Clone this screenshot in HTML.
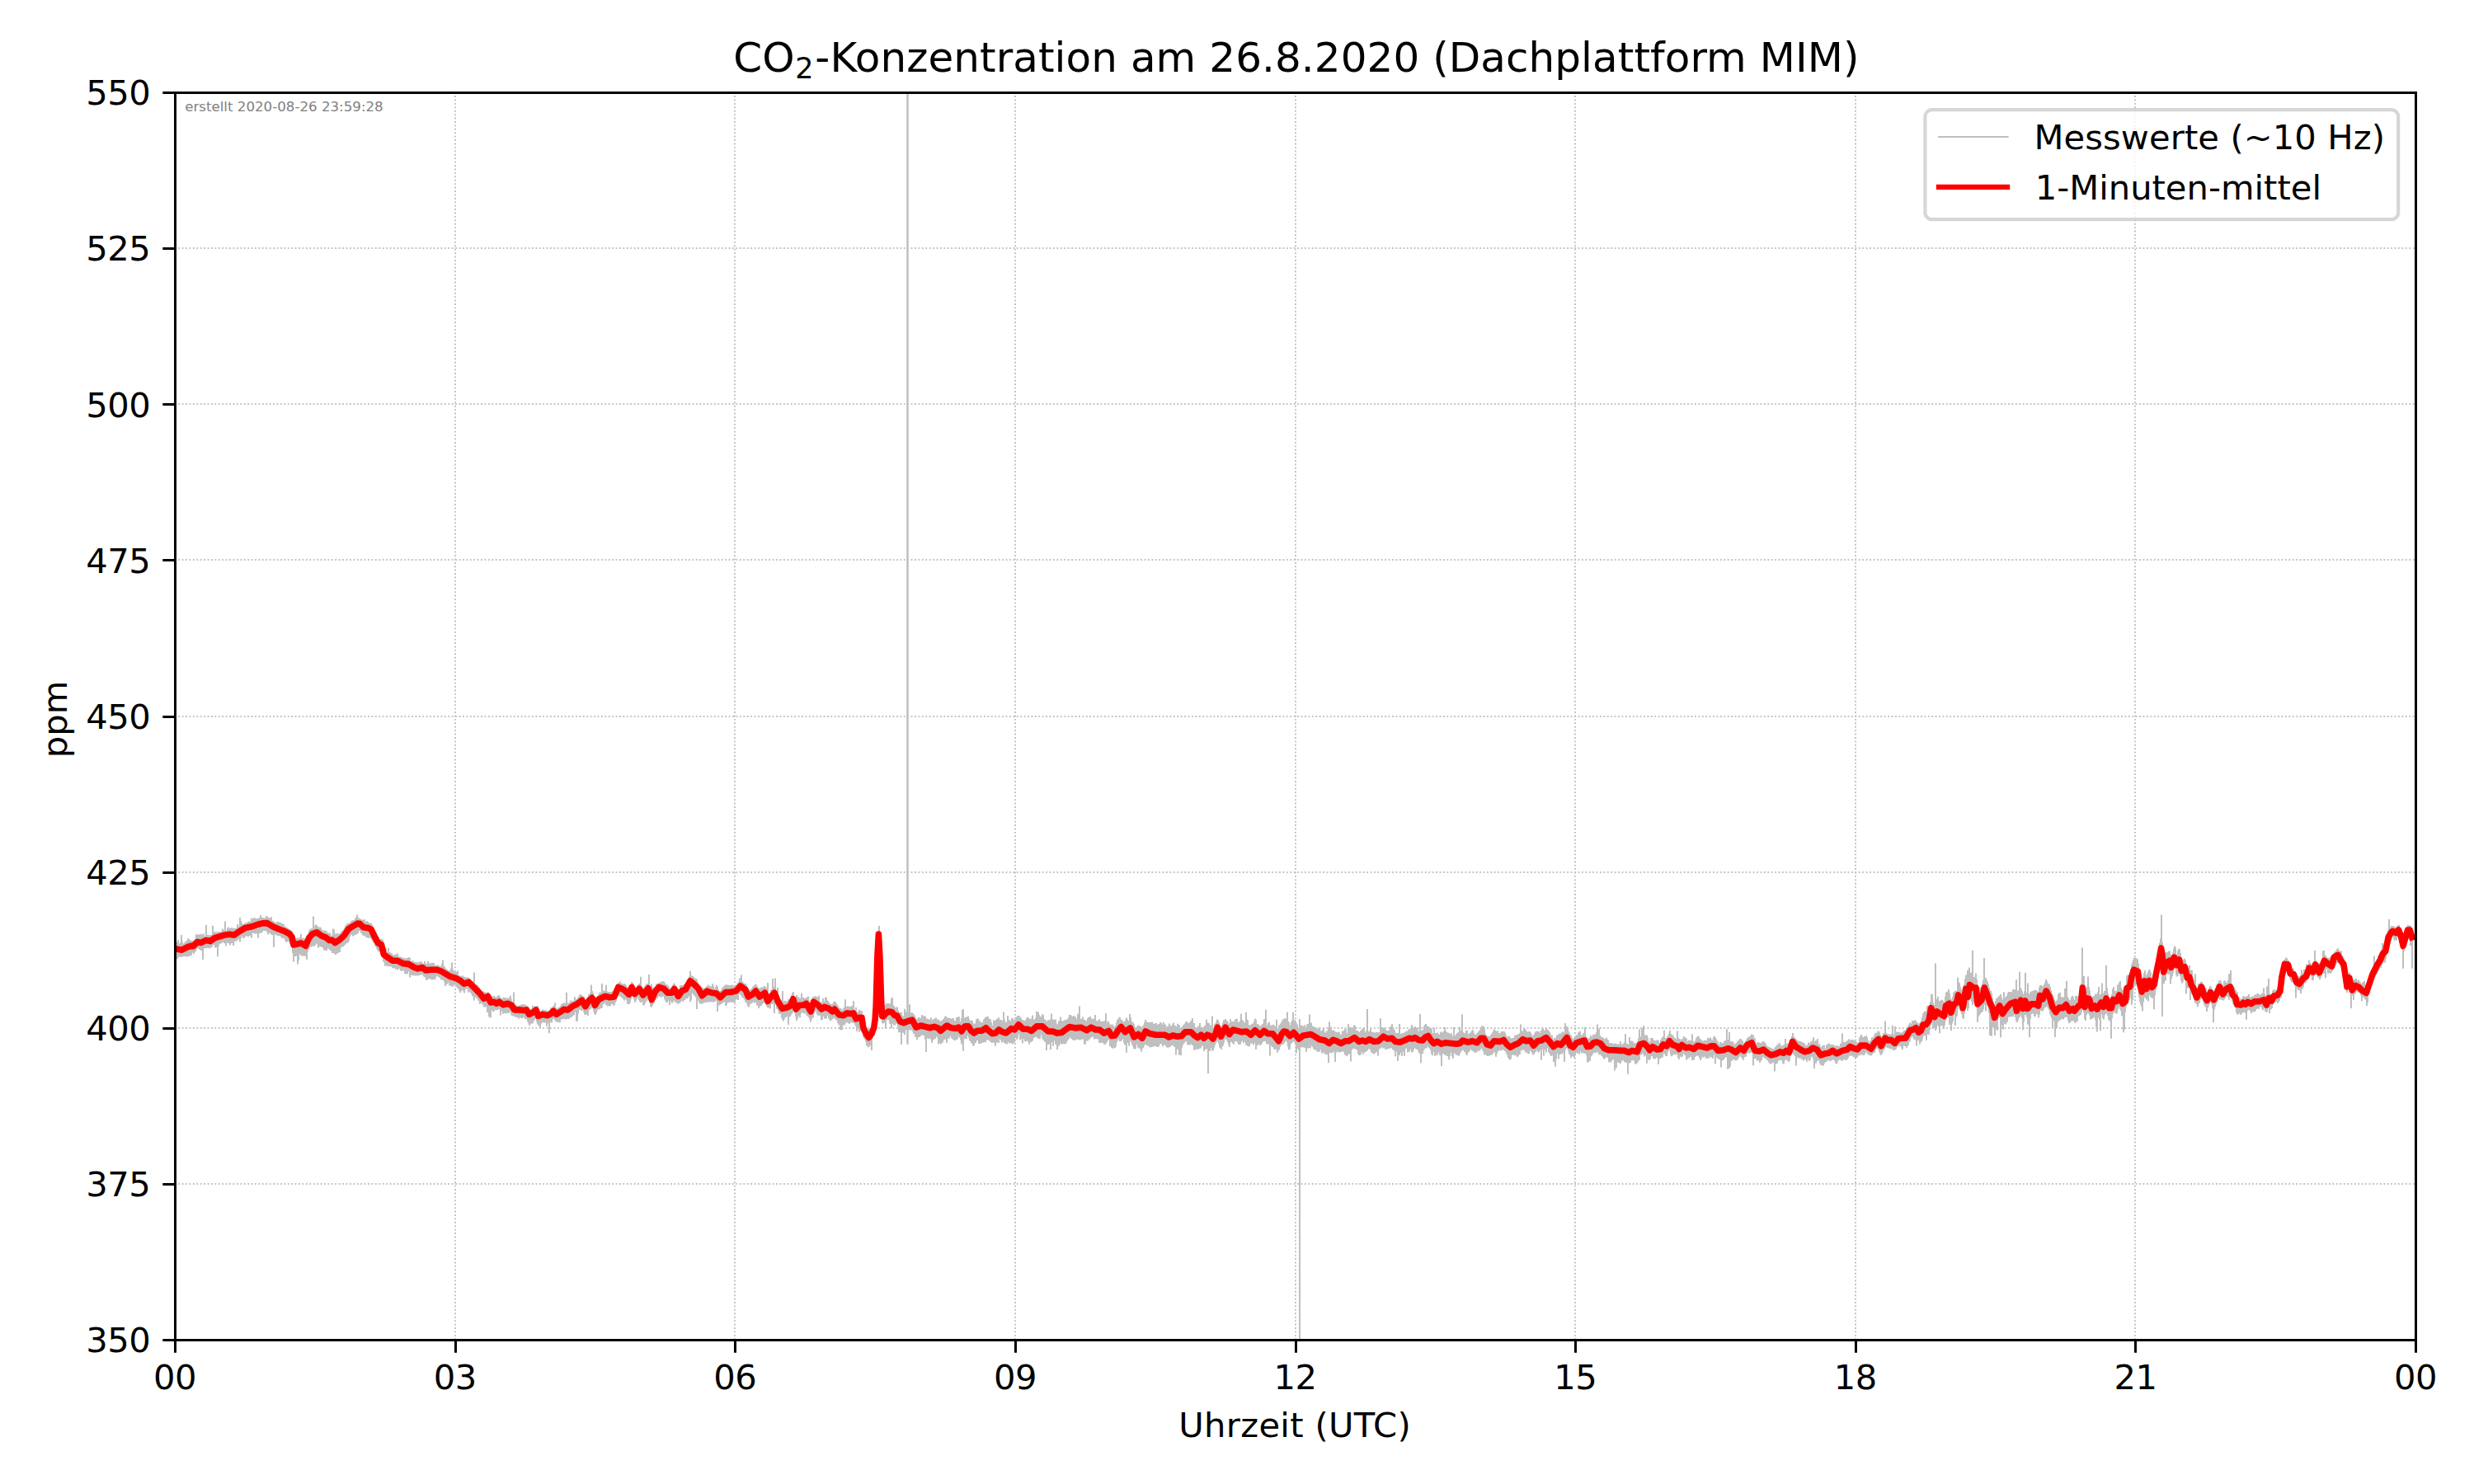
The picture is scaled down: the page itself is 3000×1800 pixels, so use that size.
<!DOCTYPE html>
<html lang="de"><head><meta charset="utf-8"><title>CO2-Konzentration am 26.8.2020</title>
<style>html,body{margin:0;padding:0;background:#fff}body{width:3000px;height:1800px;overflow:hidden}svg text{font-family:"DejaVu Sans","Liberation Sans",sans-serif}</style></head>
<body>
<svg width="3000" height="1800" viewBox="0 0 3000 1800" style="display:block">
<rect width="3000" height="1800" fill="#fff"/>
<defs><clipPath id="ax"><rect x="212.5" y="112.5" width="2717.0" height="1513.0"/></clipPath></defs>
<path d="M552,1625.20V112.5M891,1625.20V112.5M1231,1625.20V112.5M1571,1625.20V112.5M1910,1625.20V112.5M2250,1625.20V112.5M2589,1625.20V112.5M211.78,301H2929.5M211.78,490H2929.5M211.78,679H2929.5M211.78,869H2929.5M211.78,1058H2929.5M211.78,1247H2929.5M211.78,1436H2929.5" stroke="#c4c4c4" stroke-width="2" stroke-dasharray="1.9 2.52" fill="none"/>
<g clip-path="url(#ax)">
<path d="M213.0,1142.9V1163.3M214.0,1143.0V1163.2M215.0,1142.6V1163.2M216.0,1140.0V1161.1M217.0,1144.4V1160.8M218.0,1144.2V1160.6M219.0,1143.6V1160.7M220.0,1134.1V1161.1M221.0,1142.4V1160.2M222.0,1144.8V1160.1M223.0,1144.9V1159.6M224.0,1143.4V1159.9M225.0,1142.5V1159.4M226.0,1141.5V1160.5M227.0,1140.9V1160.1M228.0,1138.2V1159.4M229.0,1140.1V1159.9M230.0,1139.4V1158.9M231.0,1141.4V1159.2M232.0,1140.9V1158.6M233.0,1141.6V1155.5M234.0,1140.7V1155.1M235.0,1140.7V1157.0M236.0,1140.1V1154.9M237.0,1138.9V1153.8M238.0,1133.3V1151.8M239.0,1133.5V1150.2M240.0,1133.5V1149.8M241.0,1133.7V1150.6M242.0,1133.4V1151.5M243.0,1136.1V1151.9M244.0,1132.8V1153.0M245.0,1134.6V1152.4M246.0,1133.8V1163.9M247.0,1132.4V1150.7M248.0,1135.4V1150.3M249.0,1135.4V1150.1M250.0,1122.0V1149.9M251.0,1134.8V1150.1M252.0,1134.1V1149.2M253.0,1134.9V1150.0M254.0,1134.2V1150.2M255.0,1136.5V1150.0M256.0,1134.2V1148.9M257.0,1133.4V1148.6M258.0,1122.7V1146.2M259.0,1130.7V1146.0M260.0,1130.3V1145.9M261.0,1130.2V1149.6M262.0,1130.9V1148.9M263.0,1130.6V1148.6M264.0,1130.4V1160.2M265.0,1130.1V1147.6M266.0,1130.4V1144.5M267.0,1130.5V1144.8M268.0,1130.7V1143.9M269.0,1129.8V1143.6M270.0,1126.5V1142.5M271.0,1128.5V1142.3M272.0,1128.3V1144.2M273.0,1117.6V1142.3M274.0,1128.7V1147.4M275.0,1129.0V1143.2M276.0,1126.1V1142.4M277.0,1124.4V1144.3M278.0,1126.0V1143.6M279.0,1126.1V1146.6M280.0,1126.8V1144.3M281.0,1124.9V1143.7M282.0,1125.9V1144.1M283.0,1125.9V1146.9M284.0,1126.9V1142.3M285.0,1126.0V1141.6M286.0,1126.2V1141.7M287.0,1126.7V1141.1M288.0,1121.0V1139.9M289.0,1123.9V1139.0M290.0,1123.6V1138.4M291.0,1113.1V1142.5M292.0,1117.1V1138.1M293.0,1119.2V1135.2M294.0,1121.3V1135.5M295.0,1121.4V1138.1M296.0,1120.7V1137.8M297.0,1120.1V1135.8M298.0,1119.3V1135.4M299.0,1119.5V1135.2M300.0,1118.9V1135.2M301.0,1118.1V1136.0M302.0,1117.6V1135.2M303.0,1117.7V1134.5M304.0,1118.2V1134.8M305.0,1113.7V1137.5M306.0,1114.7V1131.3M307.0,1114.3V1131.5M308.0,1113.3V1132.1M309.0,1113.6V1132.5M310.0,1114.3V1131.7M311.0,1114.7V1132.5M312.0,1114.0V1131.4M313.0,1113.9V1137.7M314.0,1113.5V1132.2M315.0,1113.3V1132.3M316.0,1110.1V1131.6M317.0,1113.5V1131.4M318.0,1112.8V1130.0M319.0,1113.6V1129.0M320.0,1113.1V1128.6M321.0,1113.9V1129.1M322.0,1113.7V1129.0M323.0,1111.0V1129.1M324.0,1111.4V1130.4M325.0,1112.9V1133.5M326.0,1113.0V1129.5M327.0,1113.6V1131.5M328.0,1114.5V1132.3M329.0,1112.2V1133.0M330.0,1117.4V1134.0M331.0,1116.9V1131.9M332.0,1117.7V1149.0M333.0,1118.7V1133.3M334.0,1120.0V1133.6M335.0,1120.2V1134.2M336.0,1117.9V1134.4M337.0,1118.3V1135.0M338.0,1118.8V1135.2M339.0,1118.6V1135.0M340.0,1119.2V1135.5M341.0,1119.7V1136.3M342.0,1120.6V1137.9M343.0,1120.8V1137.9M344.0,1120.8V1137.8M345.0,1124.0V1138.2M346.0,1123.7V1140.5M347.0,1125.1V1142.7M348.0,1125.3V1142.2M349.0,1126.3V1141.3M350.0,1126.4V1141.6M351.0,1127.5V1143.1M352.0,1127.4V1145.0M353.0,1128.5V1147.2M354.0,1130.1V1148.3M355.0,1135.7V1155.9M356.0,1140.6V1166.6M357.0,1140.3V1159.6M358.0,1140.3V1160.1M359.0,1137.8V1159.4M360.0,1137.9V1155.9M361.0,1137.9V1169.4M362.0,1137.9V1165.1M363.0,1137.3V1155.8M364.0,1136.9V1157.6M365.0,1132.7V1158.2M366.0,1137.9V1159.4M367.0,1139.0V1159.8M368.0,1137.7V1158.3M369.0,1138.6V1159.0M370.0,1139.2V1159.4M371.0,1138.9V1160.0M372.0,1136.8V1164.0M373.0,1135.6V1154.4M374.0,1132.7V1151.7M375.0,1128.7V1149.3M376.0,1127.3V1146.6M377.0,1126.4V1148.6M378.0,1126.3V1147.7M379.0,1126.3V1147.0M380.0,1111.6V1147.8M381.0,1123.3V1147.6M382.0,1122.9V1146.5M383.0,1121.5V1144.5M384.0,1122.5V1141.9M385.0,1123.3V1145.4M386.0,1124.8V1149.4M387.0,1126.2V1147.8M388.0,1124.6V1146.0M389.0,1125.6V1148.0M390.0,1127.7V1148.5M391.0,1128.6V1149.1M392.0,1128.7V1149.8M393.0,1128.5V1152.4M394.0,1128.6V1152.2M395.0,1129.0V1152.5M396.0,1129.8V1153.3M397.0,1131.7V1149.7M398.0,1132.9V1150.6M399.0,1131.7V1150.7M400.0,1131.4V1152.0M401.0,1134.0V1153.0M402.0,1134.8V1153.4M403.0,1135.5V1156.0M404.0,1126.6V1156.0M405.0,1127.5V1155.9M406.0,1133.0V1156.7M407.0,1132.6V1158.0M408.0,1133.3V1157.1M409.0,1132.3V1155.9M410.0,1132.4V1156.1M411.0,1133.1V1154.6M412.0,1132.2V1155.0M413.0,1131.8V1149.7M414.0,1129.9V1148.8M415.0,1129.3V1148.5M416.0,1128.5V1148.1M417.0,1127.3V1147.2M418.0,1125.5V1144.7M419.0,1122.9V1145.5M420.0,1121.4V1144.0M421.0,1120.4V1143.0M422.0,1120.0V1143.4M423.0,1119.7V1141.3M424.0,1119.8V1136.7M425.0,1118.8V1134.7M426.0,1117.6V1133.3M427.0,1116.7V1133.8M428.0,1116.3V1135.4M429.0,1116.3V1134.8M430.0,1116.0V1133.2M431.0,1113.6V1133.7M432.0,1113.1V1133.2M433.0,1109.5V1132.7M434.0,1112.4V1132.1M435.0,1113.8V1128.3M436.0,1114.2V1129.2M437.0,1114.9V1129.3M438.0,1116.5V1131.5M439.0,1115.3V1132.4M440.0,1116.2V1134.6M441.0,1115.9V1134.7M442.0,1115.1V1135.1M443.0,1118.4V1134.7M444.0,1118.1V1136.9M445.0,1117.2V1136.8M446.0,1118.2V1137.6M447.0,1118.9V1138.1M448.0,1120.1V1137.7M449.0,1119.8V1137.7M450.0,1119.7V1137.2M451.0,1121.5V1139.8M452.0,1124.4V1141.5M453.0,1127.0V1143.5M454.0,1128.6V1144.6M455.0,1129.9V1147.2M456.0,1130.4V1148.4M457.0,1133.4V1150.7M458.0,1134.8V1152.5M459.0,1136.5V1154.3M460.0,1139.3V1154.3M461.0,1139.3V1153.8M462.0,1139.0V1154.4M463.0,1139.5V1156.7M464.0,1139.4V1162.2M465.0,1148.4V1166.7M466.0,1150.2V1166.6M467.0,1151.0V1171.8M468.0,1149.8V1168.4M469.0,1154.4V1171.2M470.0,1155.1V1171.7M471.0,1150.1V1172.0M472.0,1155.5V1172.2M473.0,1155.3V1171.6M474.0,1156.2V1172.5M475.0,1156.5V1172.4M476.0,1158.0V1173.7M477.0,1158.4V1174.5M478.0,1158.4V1174.2M479.0,1157.9V1173.1M480.0,1157.4V1175.5M481.0,1157.9V1175.6M482.0,1156.5V1176.5M483.0,1160.0V1173.8M484.0,1160.7V1174.5M485.0,1160.6V1175.8M486.0,1161.8V1177.2M487.0,1160.9V1178.0M488.0,1162.4V1177.6M489.0,1161.7V1177.3M490.0,1161.9V1177.2M491.0,1162.2V1181.1M492.0,1162.5V1181.2M493.0,1162.9V1181.3M494.0,1161.8V1181.6M495.0,1161.7V1177.8M496.0,1161.0V1178.6M497.0,1162.1V1185.6M498.0,1165.4V1182.8M499.0,1165.7V1182.8M500.0,1165.7V1183.1M501.0,1165.3V1183.0M502.0,1167.2V1183.3M503.0,1167.1V1183.5M504.0,1167.2V1183.2M505.0,1166.7V1182.6M506.0,1168.0V1183.2M507.0,1168.0V1183.6M508.0,1166.8V1182.8M509.0,1166.8V1182.1M510.0,1166.6V1182.5M511.0,1166.2V1182.3M512.0,1168.1V1181.4M513.0,1168.7V1182.3M514.0,1168.8V1184.2M515.0,1165.9V1185.1M516.0,1168.8V1185.5M517.0,1168.9V1188.9M518.0,1169.1V1188.5M519.0,1165.9V1187.6M520.0,1168.3V1186.6M521.0,1168.3V1186.8M522.0,1168.3V1187.7M523.0,1168.5V1187.3M524.0,1168.2V1188.5M525.0,1167.8V1187.6M526.0,1167.9V1188.2M527.0,1171.0V1188.2M528.0,1171.3V1186.8M529.0,1170.8V1184.2M530.0,1170.5V1183.7M531.0,1170.8V1184.1M532.0,1171.4V1185.1M533.0,1172.0V1185.9M534.0,1172.0V1185.9M535.0,1172.3V1188.1M536.0,1168.9V1188.8M537.0,1164.5V1188.8M538.0,1171.9V1187.8M539.0,1172.5V1190.9M540.0,1174.4V1196.0M541.0,1175.8V1192.3M542.0,1176.0V1193.7M543.0,1177.6V1191.7M544.0,1177.9V1191.7M545.0,1177.2V1195.2M546.0,1177.5V1195.2M547.0,1174.6V1196.0M548.0,1167.2V1196.4M549.0,1175.3V1196.7M550.0,1177.7V1194.8M551.0,1178.2V1194.3M552.0,1179.1V1194.1M553.0,1179.0V1194.6M554.0,1181.0V1197.3M555.0,1177.2V1198.4M556.0,1182.8V1199.2M557.0,1183.4V1201.3M558.0,1184.6V1204.0M559.0,1185.0V1202.2M560.0,1183.4V1200.5M561.0,1183.4V1200.9M562.0,1184.5V1202.2M563.0,1185.2V1204.6M564.0,1184.9V1200.8M565.0,1186.3V1199.8M566.0,1185.7V1199.3M567.0,1185.6V1199.2M568.0,1185.7V1203.7M569.0,1186.8V1201.1M570.0,1187.5V1202.6M571.0,1188.8V1204.2M572.0,1190.1V1205.5M573.0,1191.9V1208.3M574.0,1190.1V1208.6M575.0,1179.4V1213.4M576.0,1193.3V1209.2M577.0,1194.1V1209.4M578.0,1195.3V1210.4M579.0,1194.4V1211.3M580.0,1196.4V1213.6M581.0,1197.4V1214.1M582.0,1199.2V1218.1M583.0,1201.3V1215.5M584.0,1202.4V1216.6M585.0,1203.3V1217.8M586.0,1202.5V1219.3M587.0,1203.5V1221.5M588.0,1203.1V1221.6M589.0,1204.4V1221.2M590.0,1204.6V1219.7M591.0,1203.7V1227.9M592.0,1203.2V1218.9M593.0,1205.2V1233.4M594.0,1207.9V1224.1M595.0,1209.9V1234.5M596.0,1209.2V1225.2M597.0,1208.7V1224.9M598.0,1208.2V1227.1M599.0,1208.0V1226.3M600.0,1209.0V1223.9M601.0,1209.7V1224.8M602.0,1209.3V1225.2M603.0,1208.9V1224.7M604.0,1208.0V1224.5M605.0,1207.0V1224.1M606.0,1209.0V1224.4M607.0,1210.5V1231.4M608.0,1211.8V1226.1M609.0,1210.9V1226.4M610.0,1210.4V1229.8M611.0,1209.7V1228.8M612.0,1209.9V1229.0M613.0,1212.2V1228.6M614.0,1210.5V1229.3M615.0,1210.4V1228.5M616.0,1210.7V1228.4M617.0,1211.6V1229.1M618.0,1210.0V1226.5M619.0,1207.7V1226.9M620.0,1212.3V1230.6M621.0,1214.8V1232.4M622.0,1216.7V1230.5M623.0,1203.5V1231.8M624.0,1218.7V1233.2M625.0,1218.9V1233.1M626.0,1219.8V1233.8M627.0,1220.1V1234.1M628.0,1220.3V1234.0M629.0,1220.7V1235.8M630.0,1219.5V1233.9M631.0,1218.8V1233.3M632.0,1219.2V1234.8M633.0,1218.3V1235.2M634.0,1219.1V1233.9M635.0,1218.3V1233.3M636.0,1218.9V1234.1M637.0,1218.6V1235.9M638.0,1219.8V1236.0M639.0,1219.9V1235.9M640.0,1220.7V1239.3M641.0,1221.8V1241.2M642.0,1223.6V1244.0M643.0,1224.4V1242.3M644.0,1223.9V1241.0M645.0,1223.6V1241.4M646.0,1219.4V1241.3M647.0,1222.6V1238.6M648.0,1221.3V1236.5M649.0,1220.4V1236.0M650.0,1220.5V1236.1M651.0,1221.4V1239.8M652.0,1220.0V1242.4M653.0,1226.2V1243.8M654.0,1226.3V1241.1M655.0,1226.8V1247.0M656.0,1226.8V1241.8M657.0,1225.7V1240.2M658.0,1224.5V1238.9M659.0,1225.1V1240.3M660.0,1225.0V1239.8M661.0,1225.3V1240.6M662.0,1225.3V1238.9M663.0,1225.8V1244.8M664.0,1226.3V1240.3M665.0,1226.6V1241.6M666.0,1226.3V1253.3M667.0,1224.9V1240.2M668.0,1222.2V1238.6M669.0,1223.3V1240.4M670.0,1222.0V1236.2M671.0,1220.3V1235.1M672.0,1219.8V1236.0M673.0,1216.2V1237.5M674.0,1224.6V1239.1M675.0,1224.6V1238.8M676.0,1222.6V1239.7M677.0,1222.5V1239.8M678.0,1221.7V1240.2M679.0,1221.5V1240.1M680.0,1220.0V1235.3M681.0,1217.9V1236.5M682.0,1217.4V1234.1M683.0,1216.6V1236.1M684.0,1216.5V1235.7M685.0,1216.4V1235.9M686.0,1216.9V1236.6M687.0,1203.7V1236.1M688.0,1217.0V1233.0M689.0,1216.5V1236.1M690.0,1216.6V1235.5M691.0,1216.3V1234.4M692.0,1213.4V1233.9M693.0,1215.6V1233.4M694.0,1214.6V1232.5M695.0,1213.8V1231.7M696.0,1213.8V1231.2M697.0,1209.1V1227.4M698.0,1212.6V1226.8M699.0,1212.1V1239.0M700.0,1211.9V1238.4M701.0,1210.3V1229.7M702.0,1208.7V1224.7M703.0,1207.1V1223.9M704.0,1206.1V1224.5M705.0,1207.4V1225.9M706.0,1207.4V1223.1M707.0,1208.8V1225.3M708.0,1208.8V1227.6M709.0,1211.8V1230.5M710.0,1214.2V1231.1M711.0,1212.9V1229.9M712.0,1210.7V1227.1M713.0,1209.3V1231.9M714.0,1206.3V1225.0M715.0,1205.8V1224.8M716.0,1204.6V1223.7M717.0,1194.6V1222.4M718.0,1201.9V1221.0M719.0,1204.3V1223.4M720.0,1208.0V1226.6M721.0,1212.4V1229.7M722.0,1213.2V1230.9M723.0,1210.6V1228.4M724.0,1209.0V1225.5M725.0,1207.9V1224.4M726.0,1206.4V1222.9M727.0,1204.3V1224.3M728.0,1203.7V1222.1M729.0,1203.7V1223.1M730.0,1192.9V1222.0M731.0,1202.7V1218.3M732.0,1201.6V1217.5M733.0,1201.8V1216.5M734.0,1201.9V1216.3M735.0,1194.7V1219.0M736.0,1202.2V1219.6M737.0,1203.1V1220.6M738.0,1204.0V1220.1M739.0,1203.1V1220.3M740.0,1203.6V1220.4M741.0,1203.2V1218.0M742.0,1203.0V1218.0M743.0,1202.3V1217.4M744.0,1202.1V1219.6M745.0,1201.1V1219.3M746.0,1199.6V1216.0M747.0,1197.0V1214.2M748.0,1194.7V1209.9M749.0,1193.3V1207.8M750.0,1191.9V1206.8M751.0,1192.7V1208.5M752.0,1190.5V1208.4M753.0,1192.6V1208.6M754.0,1193.6V1210.6M755.0,1193.7V1210.0M756.0,1193.2V1211.8M757.0,1193.3V1213.4M758.0,1193.6V1210.2M759.0,1195.2V1211.9M760.0,1197.2V1213.3M761.0,1197.5V1218.1M762.0,1200.3V1218.1M763.0,1199.8V1218.1M764.0,1197.0V1215.6M765.0,1194.0V1212.3M766.0,1190.9V1208.8M767.0,1192.1V1206.8M768.0,1194.5V1209.0M769.0,1197.7V1212.6M770.0,1199.9V1215.8M771.0,1199.4V1213.9M772.0,1197.0V1212.1M773.0,1195.6V1210.4M774.0,1194.4V1209.3M775.0,1192.9V1213.1M776.0,1194.3V1214.7M777.0,1184.8V1216.0M778.0,1195.9V1212.7M779.0,1198.2V1215.0M780.0,1199.4V1219.2M781.0,1197.6V1219.3M782.0,1196.5V1217.2M783.0,1195.1V1213.2M784.0,1193.3V1214.5M785.0,1194.2V1212.5M786.0,1193.1V1210.2M787.0,1182.0V1212.0M788.0,1200.0V1215.7M789.0,1203.9V1221.2M790.0,1193.5V1221.6M791.0,1204.3V1220.1M792.0,1197.6V1217.8M793.0,1199.9V1216.8M794.0,1197.2V1213.3M795.0,1195.7V1212.9M796.0,1193.2V1211.3M797.0,1193.3V1211.0M798.0,1193.2V1208.4M799.0,1192.5V1207.8M800.0,1192.2V1208.4M801.0,1190.9V1209.1M802.0,1190.9V1209.4M803.0,1190.5V1208.6M804.0,1190.2V1208.0M805.0,1190.7V1208.6M806.0,1192.2V1212.1M807.0,1193.8V1213.7M808.0,1194.6V1215.4M809.0,1194.5V1216.3M810.0,1195.5V1213.6M811.0,1197.2V1213.8M812.0,1198.7V1218.9M813.0,1199.0V1214.7M814.0,1198.8V1214.0M815.0,1196.5V1216.8M816.0,1194.8V1215.1M817.0,1192.6V1212.8M818.0,1193.7V1213.8M819.0,1195.4V1215.8M820.0,1197.3V1213.9M821.0,1200.1V1216.4M822.0,1199.2V1217.6M823.0,1201.5V1217.4M824.0,1199.6V1216.4M825.0,1194.9V1215.5M826.0,1196.1V1214.0M827.0,1194.9V1212.4M828.0,1195.6V1214.8M829.0,1194.7V1213.2M830.0,1193.5V1213.1M831.0,1193.0V1212.2M832.0,1192.3V1210.9M833.0,1191.5V1210.9M834.0,1189.1V1210.4M835.0,1187.0V1208.2M836.0,1184.5V1206.5M837.0,1177.9V1214.9M838.0,1183.0V1212.8M839.0,1184.1V1203.4M840.0,1183.9V1204.8M841.0,1184.9V1206.0M842.0,1186.5V1207.5M843.0,1186.8V1208.2M844.0,1187.1V1209.7M845.0,1188.0V1224.0M846.0,1191.8V1207.8M847.0,1193.2V1213.4M848.0,1195.7V1215.8M849.0,1197.3V1217.5M850.0,1196.8V1216.1M851.0,1198.2V1217.4M852.0,1197.9V1217.1M853.0,1199.3V1216.6M854.0,1198.9V1216.3M855.0,1198.0V1214.3M856.0,1197.9V1216.2M857.0,1196.2V1215.1M858.0,1196.7V1215.2M859.0,1194.5V1215.7M860.0,1196.3V1214.4M861.0,1196.0V1215.0M862.0,1196.5V1215.2M863.0,1197.1V1214.8M864.0,1193.2V1215.5M865.0,1195.8V1215.3M866.0,1199.6V1215.6M867.0,1199.3V1214.5M868.0,1196.9V1213.8M869.0,1194.9V1213.5M870.0,1196.7V1227.1M871.0,1200.6V1218.7M872.0,1201.9V1219.4M873.0,1202.3V1218.5M874.0,1201.7V1218.2M875.0,1200.8V1216.9M876.0,1198.5V1216.9M877.0,1197.1V1215.7M878.0,1196.6V1215.2M879.0,1195.2V1213.6M880.0,1194.6V1220.2M881.0,1194.3V1218.7M882.0,1195.5V1216.1M883.0,1194.7V1212.7M884.0,1196.0V1216.2M885.0,1195.3V1215.3M886.0,1195.7V1215.6M887.0,1194.7V1214.4M888.0,1194.6V1215.8M889.0,1196.0V1215.7M890.0,1196.3V1216.1M891.0,1195.9V1216.6M892.0,1195.2V1211.8M893.0,1194.7V1212.3M894.0,1193.2V1209.0M895.0,1191.7V1213.1M896.0,1190.6V1206.0M897.0,1186.3V1205.7M898.0,1186.5V1205.6M899.0,1182.4V1208.0M900.0,1190.4V1209.4M901.0,1191.4V1210.4M902.0,1192.8V1211.1M903.0,1193.7V1212.5M904.0,1192.9V1215.4M905.0,1194.4V1215.4M906.0,1196.8V1217.6M907.0,1201.1V1220.5M908.0,1201.6V1221.4M909.0,1200.8V1218.4M910.0,1201.4V1217.5M911.0,1199.6V1217.1M912.0,1198.8V1216.6M913.0,1197.1V1215.1M914.0,1196.1V1215.4M915.0,1195.3V1216.6M916.0,1194.1V1216.0M917.0,1193.9V1215.3M918.0,1196.2V1219.6M919.0,1198.0V1217.8M920.0,1198.6V1223.1M921.0,1199.2V1221.0M922.0,1198.8V1220.1M923.0,1197.4V1219.9M924.0,1199.0V1218.0M925.0,1197.9V1217.2M926.0,1196.7V1216.2M927.0,1196.0V1214.6M928.0,1197.1V1215.6M929.0,1198.5V1217.8M930.0,1202.5V1220.6M931.0,1191.9V1222.0M932.0,1204.2V1222.5M933.0,1204.6V1220.7M934.0,1204.3V1223.6M935.0,1200.5V1217.9M936.0,1202.0V1217.2M937.0,1186.9V1217.8M938.0,1198.8V1217.5M939.0,1197.3V1229.0M940.0,1186.6V1215.3M941.0,1202.9V1218.4M942.0,1202.1V1223.4M943.0,1198.0V1224.1M944.0,1206.9V1226.3M945.0,1210.4V1229.9M946.0,1212.1V1229.2M947.0,1213.0V1229.4M948.0,1213.5V1234.8M949.0,1202.0V1236.6M950.0,1214.6V1238.4M951.0,1214.5V1236.0M952.0,1213.7V1234.1M953.0,1215.3V1233.7M954.0,1215.0V1232.9M955.0,1214.3V1232.3M956.0,1212.2V1242.9M957.0,1211.8V1233.1M958.0,1212.0V1233.2M959.0,1210.8V1231.3M960.0,1207.3V1229.5M961.0,1204.4V1227.8M962.0,1203.0V1224.3M963.0,1208.2V1225.3M964.0,1211.5V1228.7M965.0,1215.7V1233.0M966.0,1206.7V1237.9M967.0,1216.1V1235.4M968.0,1208.9V1231.9M969.0,1211.3V1229.5M970.0,1210.8V1234.2M971.0,1212.2V1229.4M972.0,1204.7V1227.9M973.0,1210.0V1228.2M974.0,1209.8V1228.1M975.0,1211.7V1229.5M976.0,1210.9V1228.6M977.0,1210.9V1228.7M978.0,1209.8V1230.7M979.0,1212.0V1232.4M980.0,1208.4V1232.6M981.0,1215.1V1233.9M982.0,1216.8V1235.7M983.0,1216.3V1239.8M984.0,1215.1V1236.5M985.0,1212.1V1234.6M986.0,1209.2V1234.4M987.0,1209.0V1229.5M988.0,1208.4V1226.4M989.0,1208.2V1226.2M990.0,1209.2V1226.7M991.0,1209.3V1230.5M992.0,1210.4V1231.8M993.0,1207.8V1230.6M994.0,1214.9V1231.5M995.0,1215.5V1232.0M996.0,1215.7V1237.3M997.0,1215.4V1237.1M998.0,1210.8V1232.7M999.0,1214.4V1231.8M1000.0,1214.6V1235.7M1001.0,1210.1V1235.6M1002.0,1209.7V1235.6M1003.0,1213.5V1231.6M1004.0,1213.9V1231.8M1005.0,1216.0V1235.0M1006.0,1217.1V1237.0M1007.0,1218.0V1238.3M1008.0,1219.5V1237.5M1009.0,1218.0V1236.2M1010.0,1217.5V1235.4M1011.0,1216.0V1234.8M1012.0,1214.6V1234.1M1013.0,1215.6V1236.4M1014.0,1217.0V1236.1M1015.0,1218.8V1237.8M1016.0,1220.2V1240.8M1017.0,1222.0V1242.7M1018.0,1222.8V1243.2M1019.0,1222.7V1249.3M1020.0,1223.5V1242.8M1021.0,1225.3V1249.2M1022.0,1225.6V1241.6M1023.0,1222.8V1243.6M1024.0,1222.0V1243.6M1025.0,1212.2V1241.6M1026.0,1221.0V1239.8M1027.0,1220.7V1238.6M1028.0,1220.5V1240.5M1029.0,1220.8V1241.0M1030.0,1220.8V1241.9M1031.0,1221.0V1239.6M1032.0,1221.4V1240.2M1033.0,1220.0V1240.5M1034.0,1222.1V1239.2M1035.0,1214.2V1241.1M1036.0,1225.1V1240.9M1037.0,1227.1V1242.8M1038.0,1221.9V1245.0M1039.0,1228.7V1251.1M1040.0,1227.6V1247.7M1041.0,1227.1V1244.5M1042.0,1224.7V1251.8M1043.0,1227.5V1244.2M1044.0,1226.1V1245.3M1045.0,1226.3V1245.2M1046.0,1231.7V1250.6M1047.0,1238.4V1257.7M1048.0,1241.2V1259.7M1049.0,1242.4V1260.8M1050.0,1244.7V1263.4M1051.0,1246.9V1268.1M1052.0,1248.4V1268.8M1053.0,1248.2V1270.3M1054.0,1247.4V1269.2M1055.0,1248.3V1267.9M1056.0,1247.3V1266.1M1057.0,1246.2V1274.0M1058.0,1243.9V1259.5M1059.0,1240.5V1256.6M1060.0,1236.8V1256.1M1061.0,1228.2V1248.6M1062.0,1213.9V1232.6M1063.0,1180.9V1200.3M1064.0,1148.1V1170.3M1065.0,1131.1V1160.9M1066.0,1123.0V1157.7M1067.0,1153.5V1176.3M1068.0,1186.2V1206.9M1069.0,1205.8V1229.4M1070.0,1223.4V1240.9M1071.0,1223.1V1241.4M1072.0,1222.2V1240.6M1073.0,1221.7V1240.0M1074.0,1219.0V1247.3M1075.0,1217.2V1237.6M1076.0,1218.2V1236.8M1077.0,1217.0V1236.3M1078.0,1217.5V1237.2M1079.0,1217.6V1241.6M1080.0,1217.1V1242.3M1081.0,1211.3V1246.9M1082.0,1209.9V1241.6M1083.0,1219.2V1241.8M1084.0,1220.3V1243.0M1085.0,1222.2V1243.8M1086.0,1222.2V1241.3M1087.0,1221.8V1241.1M1088.0,1221.5V1241.9M1089.0,1225.6V1245.3M1090.0,1228.6V1252.3M1091.0,1227.9V1251.9M1092.0,1227.8V1251.1M1093.0,1228.1V1267.0M1094.0,1231.8V1252.0M1095.0,1232.4V1252.8M1096.0,1232.6V1251.2M1097.0,1223.7V1255.1M1098.0,1227.3V1249.6M1099.0,1228.5V1248.9M1100.0,1228.9V1248.7M1101.0,1228.8V1248.9M1102.0,1227.7V1249.0M1103.0,1218.3V1249.5M1104.0,1229.5V1249.2M1105.0,1228.3V1249.7M1106.0,1228.4V1248.9M1107.0,1228.9V1251.3M1108.0,1230.7V1253.6M1109.0,1231.8V1254.2M1110.0,1235.1V1257.8M1111.0,1236.3V1257.7M1112.0,1236.5V1261.0M1113.0,1235.8V1258.3M1114.0,1233.9V1257.6M1115.0,1234.4V1258.0M1116.0,1234.8V1256.4M1117.0,1234.5V1255.9M1118.0,1230.9V1254.4M1119.0,1235.5V1255.2M1120.0,1232.3V1255.9M1121.0,1232.6V1255.9M1122.0,1232.6V1260.8M1123.0,1237.1V1276.0M1124.0,1235.6V1259.3M1125.0,1236.1V1259.4M1126.0,1236.6V1259.8M1127.0,1236.5V1258.8M1128.0,1237.1V1260.3M1129.0,1234.2V1259.5M1130.0,1237.8V1264.8M1131.0,1237.4V1261.9M1132.0,1236.3V1260.4M1133.0,1235.6V1259.8M1134.0,1236.0V1260.3M1135.0,1234.5V1257.5M1136.0,1236.9V1257.6M1137.0,1236.6V1258.5M1138.0,1236.4V1266.4M1139.0,1238.1V1264.6M1140.0,1239.5V1265.5M1141.0,1239.1V1266.4M1142.0,1237.4V1264.7M1143.0,1238.0V1264.5M1144.0,1236.3V1261.6M1145.0,1235.2V1260.7M1146.0,1233.0V1259.5M1147.0,1232.8V1260.7M1148.0,1234.5V1265.0M1149.0,1234.4V1260.3M1150.0,1234.7V1259.0M1151.0,1234.8V1259.5M1152.0,1235.2V1256.3M1153.0,1235.8V1257.1M1154.0,1236.2V1259.0M1155.0,1235.2V1259.9M1156.0,1234.9V1261.0M1157.0,1238.0V1261.0M1158.0,1237.9V1262.2M1159.0,1238.3V1260.8M1160.0,1234.2V1261.0M1161.0,1233.8V1260.5M1162.0,1233.2V1257.1M1163.0,1233.3V1257.2M1164.0,1239.0V1259.1M1165.0,1240.6V1261.5M1166.0,1235.0V1266.4M1167.0,1224.7V1264.9M1168.0,1224.2V1274.8M1169.0,1235.1V1260.0M1170.0,1234.7V1259.8M1171.0,1233.8V1259.8M1172.0,1233.6V1260.2M1173.0,1234.8V1255.2M1174.0,1232.6V1256.0M1175.0,1236.1V1259.0M1176.0,1238.2V1262.3M1177.0,1238.1V1262.9M1178.0,1240.6V1265.5M1179.0,1237.7V1263.5M1180.0,1241.5V1268.6M1181.0,1241.6V1268.3M1182.0,1243.0V1263.3M1183.0,1241.4V1264.9M1184.0,1236.5V1262.2M1185.0,1235.7V1261.5M1186.0,1235.6V1262.2M1187.0,1238.6V1265.9M1188.0,1238.3V1265.9M1189.0,1240.6V1266.0M1190.0,1240.2V1264.5M1191.0,1240.1V1264.8M1192.0,1240.4V1264.5M1193.0,1236.7V1263.9M1194.0,1235.6V1263.0M1195.0,1234.3V1264.3M1196.0,1233.5V1261.8M1197.0,1233.0V1259.6M1198.0,1233.2V1261.0M1199.0,1235.5V1261.8M1200.0,1237.8V1262.3M1201.0,1236.3V1263.0M1202.0,1239.9V1264.2M1203.0,1243.5V1264.9M1204.0,1244.5V1264.3M1205.0,1237.5V1263.5M1206.0,1238.4V1265.2M1207.0,1238.1V1268.8M1208.0,1237.1V1263.7M1209.0,1235.9V1264.6M1210.0,1235.2V1263.8M1211.0,1234.3V1265.0M1212.0,1236.7V1259.8M1213.0,1237.3V1260.6M1214.0,1237.1V1262.1M1215.0,1238.4V1264.8M1216.0,1239.4V1263.0M1217.0,1227.4V1263.1M1218.0,1236.9V1264.9M1219.0,1239.9V1265.5M1220.0,1240.2V1266.3M1221.0,1239.7V1266.5M1222.0,1231.9V1264.0M1223.0,1238.6V1263.7M1224.0,1237.1V1265.5M1225.0,1239.2V1259.2M1226.0,1238.7V1265.3M1227.0,1235.0V1258.6M1228.0,1235.2V1266.6M1229.0,1237.2V1264.8M1230.0,1237.2V1264.7M1231.0,1237.2V1259.0M1232.0,1233.7V1258.9M1233.0,1233.5V1260.7M1234.0,1231.9V1259.5M1235.0,1231.8V1254.2M1236.0,1232.5V1254.3M1237.0,1234.1V1261.4M1238.0,1234.8V1259.2M1239.0,1236.8V1260.0M1240.0,1236.9V1265.6M1241.0,1237.8V1259.2M1242.0,1238.1V1260.3M1243.0,1237.9V1263.1M1244.0,1237.5V1263.4M1245.0,1234.9V1262.6M1246.0,1233.8V1260.3M1247.0,1234.5V1263.3M1248.0,1236.3V1266.8M1249.0,1236.0V1263.3M1250.0,1235.7V1264.0M1251.0,1237.9V1263.2M1252.0,1231.6V1262.6M1253.0,1238.0V1258.8M1254.0,1236.8V1258.4M1255.0,1236.2V1257.8M1256.0,1234.6V1257.1M1257.0,1227.0V1257.5M1258.0,1234.4V1258.7M1259.0,1227.4V1259.7M1260.0,1231.0V1259.1M1261.0,1233.7V1259.9M1262.0,1233.0V1255.2M1263.0,1233.9V1255.6M1264.0,1230.2V1259.0M1265.0,1231.2V1261.5M1266.0,1235.9V1260.9M1267.0,1236.7V1263.8M1268.0,1237.6V1264.1M1269.0,1239.2V1274.0M1270.0,1241.1V1266.5M1271.0,1237.2V1267.0M1272.0,1238.0V1266.6M1273.0,1236.8V1265.8M1274.0,1237.8V1273.0M1275.0,1229.5V1264.2M1276.0,1236.1V1263.1M1277.0,1241.6V1268.7M1278.0,1237.1V1262.6M1279.0,1236.8V1262.1M1280.0,1236.5V1266.7M1281.0,1241.4V1267.0M1282.0,1242.5V1273.2M1283.0,1242.4V1268.1M1284.0,1238.2V1268.7M1285.0,1238.9V1265.7M1286.0,1233.6V1263.6M1287.0,1240.8V1266.4M1288.0,1238.2V1266.3M1289.0,1238.2V1265.6M1290.0,1238.4V1266.3M1291.0,1237.3V1265.0M1292.0,1238.1V1266.3M1293.0,1237.1V1264.6M1294.0,1236.5V1262.4M1295.0,1236.0V1260.9M1296.0,1233.8V1260.0M1297.0,1231.1V1257.2M1298.0,1231.1V1257.8M1299.0,1232.0V1259.8M1300.0,1233.0V1259.9M1301.0,1233.1V1261.6M1302.0,1232.2V1261.7M1303.0,1233.1V1260.8M1304.0,1233.5V1261.8M1305.0,1236.0V1260.5M1306.0,1235.8V1260.6M1307.0,1229.8V1260.9M1308.0,1233.0V1260.8M1309.0,1220.6V1261.4M1310.0,1235.8V1261.6M1311.0,1235.7V1258.3M1312.0,1236.2V1260.8M1313.0,1233.5V1258.7M1314.0,1236.7V1260.4M1315.0,1237.0V1266.7M1316.0,1237.2V1266.5M1317.0,1238.8V1262.5M1318.0,1238.5V1261.8M1319.0,1234.9V1262.4M1320.0,1233.7V1260.7M1321.0,1234.2V1260.8M1322.0,1232.8V1259.1M1323.0,1235.2V1258.2M1324.0,1235.4V1258.0M1325.0,1235.9V1257.2M1326.0,1235.8V1257.8M1327.0,1238.1V1260.4M1328.0,1231.0V1259.1M1329.0,1238.0V1260.0M1330.0,1238.1V1259.6M1331.0,1239.0V1260.5M1332.0,1237.7V1259.7M1333.0,1236.2V1265.1M1334.0,1238.7V1265.0M1335.0,1239.0V1264.2M1336.0,1239.7V1264.8M1337.0,1238.8V1264.8M1338.0,1242.5V1265.1M1339.0,1238.3V1266.7M1340.0,1239.4V1266.9M1341.0,1229.0V1265.4M1342.0,1241.5V1264.2M1343.0,1239.8V1261.6M1344.0,1238.8V1261.4M1345.0,1241.5V1261.8M1346.0,1243.0V1268.9M1347.0,1245.6V1268.4M1348.0,1242.4V1270.8M1349.0,1242.5V1271.5M1350.0,1244.6V1269.6M1351.0,1245.6V1271.4M1352.0,1245.6V1271.1M1353.0,1243.7V1269.4M1354.0,1240.2V1264.6M1355.0,1236.9V1262.2M1356.0,1236.2V1260.5M1357.0,1234.2V1260.0M1358.0,1233.8V1263.2M1359.0,1236.8V1263.1M1360.0,1236.7V1262.1M1361.0,1238.1V1259.0M1362.0,1239.8V1260.2M1363.0,1239.2V1264.8M1364.0,1240.5V1267.5M1365.0,1237.0V1266.5M1366.0,1234.5V1276.7M1367.0,1236.7V1265.1M1368.0,1238.8V1265.0M1369.0,1238.3V1268.7M1370.0,1230.0V1262.8M1371.0,1234.2V1259.2M1372.0,1238.6V1264.5M1373.0,1240.5V1266.9M1374.0,1240.2V1269.4M1375.0,1242.3V1272.0M1376.0,1247.1V1272.6M1377.0,1246.0V1272.0M1378.0,1245.7V1266.8M1379.0,1245.5V1266.4M1380.0,1243.7V1270.8M1381.0,1244.1V1270.6M1382.0,1246.3V1272.2M1383.0,1244.8V1269.8M1384.0,1246.2V1275.8M1385.0,1247.0V1272.1M1386.0,1244.8V1271.0M1387.0,1242.9V1269.3M1388.0,1240.2V1266.1M1389.0,1236.9V1266.7M1390.0,1239.6V1267.3M1391.0,1239.6V1268.1M1392.0,1240.3V1268.6M1393.0,1240.0V1265.0M1394.0,1240.8V1270.3M1395.0,1239.9V1270.1M1396.0,1240.4V1270.2M1397.0,1239.6V1270.0M1398.0,1241.4V1265.3M1399.0,1241.8V1269.2M1400.0,1242.2V1268.5M1401.0,1241.5V1268.9M1402.0,1241.1V1268.5M1403.0,1243.0V1269.4M1404.0,1243.0V1270.1M1405.0,1242.2V1269.4M1406.0,1241.9V1266.8M1407.0,1240.0V1266.1M1408.0,1240.8V1264.9M1409.0,1242.6V1266.2M1410.0,1242.5V1269.2M1411.0,1240.0V1265.8M1412.0,1243.2V1267.5M1413.0,1242.5V1267.5M1414.0,1245.5V1268.8M1415.0,1245.7V1270.2M1416.0,1244.7V1270.7M1417.0,1244.4V1270.4M1418.0,1241.5V1270.1M1419.0,1244.4V1269.6M1420.0,1244.5V1268.5M1421.0,1243.9V1268.1M1422.0,1242.8V1267.9M1423.0,1240.6V1266.8M1424.0,1245.1V1269.7M1425.0,1243.9V1269.6M1426.0,1245.2V1279.6M1427.0,1245.6V1272.0M1428.0,1241.7V1272.7M1429.0,1242.9V1273.1M1430.0,1243.4V1279.7M1431.0,1247.4V1270.4M1432.0,1247.2V1280.1M1433.0,1246.5V1271.0M1434.0,1245.4V1267.8M1435.0,1243.1V1265.7M1436.0,1242.9V1264.9M1437.0,1241.4V1263.3M1438.0,1239.7V1263.1M1439.0,1238.7V1262.0M1440.0,1241.1V1266.9M1441.0,1240.7V1267.4M1442.0,1240.7V1267.2M1443.0,1240.6V1267.4M1444.0,1238.1V1266.1M1445.0,1242.2V1266.3M1446.0,1235.0V1267.9M1447.0,1241.8V1266.5M1448.0,1241.0V1273.8M1449.0,1245.8V1272.7M1450.0,1246.4V1273.1M1451.0,1246.7V1270.1M1452.0,1247.6V1272.8M1453.0,1245.1V1272.6M1454.0,1244.2V1272.2M1455.0,1241.1V1271.6M1456.0,1246.0V1271.6M1457.0,1245.8V1266.9M1458.0,1247.0V1268.6M1459.0,1247.8V1269.0M1460.0,1248.6V1274.9M1461.0,1244.3V1272.2M1462.0,1243.4V1272.7M1463.0,1236.4V1271.5M1464.0,1241.6V1272.1M1465.0,1240.6V1302.0M1466.0,1241.2V1267.1M1467.0,1245.7V1275.0M1468.0,1243.6V1269.2M1469.0,1244.1V1271.4M1470.0,1232.6V1274.6M1471.0,1246.7V1274.1M1472.0,1246.7V1270.8M1473.0,1242.0V1267.7M1474.0,1241.6V1265.3M1475.0,1239.3V1264.2M1476.0,1236.4V1260.1M1477.0,1237.3V1262.6M1478.0,1239.9V1265.7M1479.0,1244.2V1270.2M1480.0,1245.6V1271.2M1481.0,1246.3V1272.8M1482.0,1243.6V1269.4M1483.0,1240.6V1268.3M1484.0,1237.2V1265.2M1485.0,1238.2V1260.7M1486.0,1236.0V1258.4M1487.0,1237.7V1260.6M1488.0,1238.3V1262.1M1489.0,1240.2V1263.9M1490.0,1241.8V1267.2M1491.0,1243.2V1270.1M1492.0,1235.9V1264.3M1493.0,1240.8V1263.9M1494.0,1239.0V1262.4M1495.0,1239.4V1265.6M1496.0,1238.8V1266.8M1497.0,1239.3V1263.2M1498.0,1236.3V1262.8M1499.0,1235.9V1263.2M1500.0,1235.7V1263.0M1501.0,1240.0V1264.6M1502.0,1239.8V1267.0M1503.0,1241.0V1266.5M1504.0,1237.7V1266.8M1505.0,1229.7V1264.0M1506.0,1237.2V1262.1M1507.0,1237.4V1262.4M1508.0,1240.1V1265.2M1509.0,1241.4V1263.1M1510.0,1240.3V1263.6M1511.0,1227.7V1267.7M1512.0,1236.5V1263.1M1513.0,1237.5V1268.4M1514.0,1243.2V1269.3M1515.0,1243.6V1269.3M1516.0,1244.9V1265.7M1517.0,1243.2V1265.8M1518.0,1241.8V1265.4M1519.0,1243.2V1264.0M1520.0,1241.3V1267.6M1521.0,1239.0V1264.6M1522.0,1235.8V1264.9M1523.0,1236.8V1272.9M1524.0,1242.5V1268.0M1525.0,1242.2V1268.0M1526.0,1242.5V1265.2M1527.0,1243.9V1266.0M1528.0,1245.6V1268.0M1529.0,1244.4V1267.2M1530.0,1243.4V1265.4M1531.0,1242.0V1263.9M1532.0,1241.4V1263.1M1533.0,1236.1V1262.5M1534.0,1236.6V1262.9M1535.0,1224.8V1263.3M1536.0,1243.6V1266.3M1537.0,1243.4V1266.3M1538.0,1241.1V1266.4M1539.0,1239.8V1266.8M1540.0,1243.3V1280.6M1541.0,1244.1V1268.5M1542.0,1243.7V1267.7M1543.0,1243.9V1269.8M1544.0,1242.8V1270.1M1545.0,1243.8V1271.7M1546.0,1245.1V1273.3M1547.0,1245.7V1270.4M1548.0,1236.8V1272.2M1549.0,1248.0V1276.8M1550.0,1249.5V1273.8M1551.0,1244.1V1273.5M1552.0,1243.1V1270.0M1553.0,1241.7V1267.8M1554.0,1240.2V1265.1M1555.0,1238.3V1267.3M1556.0,1236.3V1266.7M1557.0,1237.8V1264.7M1558.0,1235.0V1263.7M1559.0,1236.0V1262.6M1560.0,1235.8V1262.5M1561.0,1227.8V1264.5M1562.0,1238.7V1269.7M1563.0,1240.3V1273.3M1564.0,1244.7V1272.5M1565.0,1243.7V1266.2M1566.0,1239.6V1265.5M1567.0,1237.8V1264.2M1568.0,1227.8V1263.2M1569.0,1240.1V1262.9M1570.0,1237.3V1264.2M1571.0,1239.7V1266.3M1572.0,1241.1V1277.2M1573.0,1242.7V1272.0M1574.0,1248.2V1271.9M1575.0,1249.0V1273.8M1576.0,1248.9V1272.9M1577.0,1244.7V1270.3M1578.0,1243.6V1268.9M1579.0,1244.4V1270.4M1580.0,1245.2V1268.1M1581.0,1244.8V1270.3M1582.0,1243.3V1270.8M1583.0,1246.4V1270.2M1584.0,1246.6V1276.1M1585.0,1242.5V1271.8M1586.0,1242.1V1271.5M1587.0,1241.7V1270.1M1588.0,1230.4V1271.1M1589.0,1241.5V1271.6M1590.0,1240.6V1268.0M1591.0,1244.2V1268.6M1592.0,1245.1V1269.7M1593.0,1246.9V1271.9M1594.0,1245.5V1273.6M1595.0,1248.0V1272.8M1596.0,1247.4V1273.7M1597.0,1248.3V1274.4M1598.0,1248.5V1275.9M1599.0,1246.6V1272.2M1600.0,1247.6V1275.5M1601.0,1250.5V1272.9M1602.0,1250.2V1273.3M1603.0,1250.5V1277.4M1604.0,1249.2V1277.4M1605.0,1247.5V1276.6M1606.0,1251.4V1274.6M1607.0,1252.7V1278.8M1608.0,1252.9V1279.0M1609.0,1250.5V1279.2M1610.0,1250.2V1274.8M1611.0,1246.9V1289.3M1612.0,1239.3V1276.5M1613.0,1251.6V1276.9M1614.0,1245.5V1276.6M1615.0,1251.9V1277.3M1616.0,1249.7V1276.2M1617.0,1250.3V1274.9M1618.0,1250.1V1275.8M1619.0,1251.7V1288.0M1620.0,1251.9V1277.2M1621.0,1251.8V1274.3M1622.0,1253.3V1275.2M1623.0,1252.3V1276.1M1624.0,1251.5V1276.4M1625.0,1254.9V1275.6M1626.0,1255.1V1276.0M1627.0,1254.2V1275.8M1628.0,1250.2V1274.7M1629.0,1250.4V1274.9M1630.0,1250.6V1276.5M1631.0,1248.0V1279.6M1632.0,1248.5V1279.8M1633.0,1253.7V1281.0M1634.0,1252.9V1279.7M1635.0,1242.2V1279.1M1636.0,1251.0V1278.2M1637.0,1246.6V1272.8M1638.0,1246.1V1287.5M1639.0,1248.1V1273.2M1640.0,1247.5V1272.0M1641.0,1246.2V1271.2M1642.0,1243.4V1272.1M1643.0,1244.1V1270.7M1644.0,1249.7V1272.2M1645.0,1251.4V1273.5M1646.0,1249.9V1273.2M1647.0,1251.0V1278.2M1648.0,1252.6V1279.9M1649.0,1252.1V1279.7M1650.0,1249.9V1279.0M1651.0,1249.9V1275.5M1652.0,1248.2V1276.0M1653.0,1247.5V1278.8M1654.0,1246.4V1276.7M1655.0,1252.0V1275.2M1656.0,1252.4V1276.1M1657.0,1249.9V1275.1M1658.0,1224.0V1274.1M1659.0,1251.9V1272.6M1660.0,1251.1V1272.2M1661.0,1250.9V1271.9M1662.0,1247.3V1273.5M1663.0,1251.5V1275.9M1664.0,1252.4V1277.3M1665.0,1251.9V1277.7M1666.0,1252.7V1278.4M1667.0,1252.6V1275.8M1668.0,1253.6V1277.2M1669.0,1251.7V1275.8M1670.0,1252.8V1275.0M1671.0,1252.3V1280.8M1672.0,1252.3V1272.5M1673.0,1251.9V1272.0M1674.0,1235.3V1271.6M1675.0,1247.9V1270.1M1676.0,1246.3V1268.2M1677.0,1246.4V1271.6M1678.0,1246.4V1270.7M1679.0,1247.0V1268.3M1680.0,1249.0V1273.1M1681.0,1249.7V1271.0M1682.0,1250.1V1272.5M1683.0,1250.3V1271.8M1684.0,1249.9V1272.0M1685.0,1249.7V1271.6M1686.0,1245.5V1271.2M1687.0,1245.1V1270.0M1688.0,1242.2V1271.5M1689.0,1247.8V1273.0M1690.0,1248.3V1274.1M1691.0,1249.6V1273.2M1692.0,1253.2V1281.2M1693.0,1252.8V1275.5M1694.0,1253.2V1275.0M1695.0,1253.1V1287.0M1696.0,1255.1V1277.0M1697.0,1241.9V1279.9M1698.0,1255.2V1276.7M1699.0,1253.8V1274.4M1700.0,1253.8V1280.8M1701.0,1253.1V1275.6M1702.0,1253.1V1275.4M1703.0,1252.8V1280.9M1704.0,1251.7V1272.3M1705.0,1251.2V1271.3M1706.0,1250.6V1271.4M1707.0,1250.5V1276.4M1708.0,1249.5V1275.8M1709.0,1248.1V1275.5M1710.0,1248.6V1272.2M1711.0,1248.2V1272.6M1712.0,1243.1V1276.4M1713.0,1248.1V1276.0M1714.0,1246.1V1273.2M1715.0,1247.7V1269.6M1716.0,1245.0V1271.0M1717.0,1246.7V1272.2M1718.0,1246.4V1272.5M1719.0,1248.2V1273.0M1720.0,1251.3V1274.3M1721.0,1252.2V1277.5M1722.0,1230.0V1277.6M1723.0,1250.0V1289.2M1724.0,1249.8V1278.3M1725.0,1250.7V1278.1M1726.0,1249.0V1274.3M1727.0,1244.9V1272.4M1728.0,1242.9V1271.7M1729.0,1242.0V1270.6M1730.0,1245.3V1271.3M1731.0,1244.5V1269.0M1732.0,1245.2V1268.7M1733.0,1247.0V1271.0M1734.0,1246.3V1271.7M1735.0,1247.3V1273.4M1736.0,1248.2V1278.2M1737.0,1254.9V1280.2M1738.0,1253.3V1276.3M1739.0,1246.5V1276.2M1740.0,1253.7V1281.1M1741.0,1253.3V1279.8M1742.0,1253.0V1279.7M1743.0,1252.4V1279.6M1744.0,1253.9V1276.5M1745.0,1254.8V1276.5M1746.0,1255.2V1279.7M1747.0,1251.5V1280.4M1748.0,1252.4V1293.3M1749.0,1252.4V1278.6M1750.0,1251.2V1277.9M1751.0,1251.6V1278.2M1752.0,1245.7V1279.8M1753.0,1250.8V1279.4M1754.0,1251.8V1280.2M1755.0,1254.2V1281.0M1756.0,1252.6V1281.3M1757.0,1254.0V1285.3M1758.0,1253.5V1280.7M1759.0,1253.8V1276.2M1760.0,1253.4V1277.0M1761.0,1256.8V1281.6M1762.0,1257.4V1283.9M1763.0,1246.0V1277.4M1764.0,1256.5V1277.2M1765.0,1256.3V1278.3M1766.0,1254.3V1279.8M1767.0,1253.4V1278.7M1768.0,1252.4V1280.1M1769.0,1252.1V1280.7M1770.0,1245.5V1278.4M1771.0,1251.0V1275.9M1772.0,1250.3V1274.9M1773.0,1230.4V1273.8M1774.0,1252.1V1273.3M1775.0,1252.7V1274.1M1776.0,1253.1V1276.2M1777.0,1253.5V1276.1M1778.0,1249.7V1278.4M1779.0,1250.1V1279.9M1780.0,1255.1V1276.5M1781.0,1254.5V1275.9M1782.0,1253.2V1274.3M1783.0,1253.1V1272.7M1784.0,1252.1V1272.6M1785.0,1249.9V1273.9M1786.0,1249.2V1274.7M1787.0,1252.7V1275.1M1788.0,1254.7V1276.4M1789.0,1255.0V1276.7M1790.0,1255.3V1276.5M1791.0,1253.4V1275.4M1792.0,1252.7V1274.7M1793.0,1251.4V1273.7M1794.0,1250.2V1274.4M1795.0,1249.3V1273.2M1796.0,1247.1V1271.2M1797.0,1244.6V1271.4M1798.0,1244.4V1273.8M1799.0,1244.8V1275.4M1800.0,1247.2V1279.4M1801.0,1253.5V1277.1M1802.0,1255.5V1279.3M1803.0,1256.5V1280.2M1804.0,1258.2V1280.9M1805.0,1256.8V1280.0M1806.0,1257.5V1280.5M1807.0,1258.0V1280.0M1808.0,1254.7V1279.9M1809.0,1254.6V1279.1M1810.0,1252.2V1278.6M1811.0,1250.5V1276.2M1812.0,1248.4V1276.1M1813.0,1249.8V1276.7M1814.0,1250.8V1281.8M1815.0,1251.5V1277.9M1816.0,1250.2V1275.3M1817.0,1253.4V1275.0M1818.0,1253.2V1273.9M1819.0,1252.7V1273.3M1820.0,1252.7V1274.3M1821.0,1251.0V1273.8M1822.0,1251.8V1273.2M1823.0,1251.0V1272.1M1824.0,1251.3V1273.8M1825.0,1252.8V1274.8M1826.0,1255.5V1275.6M1827.0,1257.0V1278.1M1828.0,1257.7V1279.8M1829.0,1258.6V1283.2M1830.0,1256.4V1284.2M1831.0,1258.6V1285.5M1832.0,1261.0V1284.6M1833.0,1259.4V1280.1M1834.0,1259.1V1279.5M1835.0,1259.0V1279.1M1836.0,1259.5V1279.5M1837.0,1256.1V1280.5M1838.0,1255.8V1280.0M1839.0,1255.9V1279.8M1840.0,1254.9V1282.2M1841.0,1254.4V1280.7M1842.0,1254.1V1279.3M1843.0,1253.3V1278.8M1844.0,1242.4V1273.7M1845.0,1251.9V1274.3M1846.0,1250.6V1273.1M1847.0,1250.6V1272.0M1848.0,1247.7V1273.6M1849.0,1248.2V1274.0M1850.0,1248.7V1276.3M1851.0,1251.1V1275.8M1852.0,1252.4V1277.4M1853.0,1251.5V1276.4M1854.0,1251.0V1278.2M1855.0,1251.3V1274.3M1856.0,1252.5V1273.5M1857.0,1254.4V1275.4M1858.0,1256.6V1276.9M1859.0,1257.7V1279.6M1860.0,1255.5V1278.7M1861.0,1253.6V1276.8M1862.0,1252.1V1275.6M1863.0,1250.7V1274.6M1864.0,1251.1V1274.4M1865.0,1250.9V1276.0M1866.0,1251.1V1276.4M1867.0,1253.1V1274.0M1868.0,1253.2V1273.4M1869.0,1249.9V1285.8M1870.0,1248.8V1272.6M1871.0,1247.0V1271.3M1872.0,1251.8V1280.4M1873.0,1249.7V1273.0M1874.0,1249.6V1273.3M1875.0,1247.0V1276.4M1876.0,1248.5V1270.0M1877.0,1249.5V1270.9M1878.0,1250.2V1276.1M1879.0,1252.1V1277.5M1880.0,1254.4V1279.1M1881.0,1256.7V1281.0M1882.0,1255.7V1278.1M1883.0,1260.5V1280.2M1884.0,1260.7V1288.0M1885.0,1259.1V1282.5M1886.0,1258.7V1293.7M1887.0,1258.7V1284.8M1888.0,1255.8V1277.2M1889.0,1255.3V1277.7M1890.0,1255.1V1284.5M1891.0,1253.7V1279.3M1892.0,1254.1V1277.6M1893.0,1253.6V1278.2M1894.0,1252.6V1278.7M1895.0,1251.4V1276.8M1896.0,1253.5V1276.0M1897.0,1252.2V1288.0M1898.0,1241.1V1273.9M1899.0,1246.6V1271.2M1900.0,1245.1V1270.1M1901.0,1247.4V1272.3M1902.0,1250.9V1275.2M1903.0,1252.9V1278.7M1904.0,1255.3V1279.7M1905.0,1255.5V1283.2M1906.0,1258.3V1281.3M1907.0,1260.6V1281.3M1908.0,1260.0V1280.8M1909.0,1258.8V1283.2M1910.0,1257.5V1279.9M1911.0,1256.8V1277.5M1912.0,1255.7V1277.2M1913.0,1254.9V1276.7M1914.0,1252.5V1277.6M1915.0,1251.4V1278.7M1916.0,1250.7V1274.4M1917.0,1255.8V1275.2M1918.0,1255.7V1277.4M1919.0,1255.3V1277.0M1920.0,1253.6V1276.4M1921.0,1253.0V1277.7M1922.0,1245.8V1275.9M1923.0,1256.8V1277.9M1924.0,1258.0V1280.0M1925.0,1260.2V1288.8M1926.0,1259.9V1288.3M1927.0,1258.7V1280.3M1928.0,1259.5V1286.9M1929.0,1255.8V1281.5M1930.0,1259.0V1280.6M1931.0,1257.5V1278.8M1932.0,1255.1V1276.8M1933.0,1254.8V1276.2M1934.0,1255.3V1277.3M1935.0,1254.5V1276.8M1936.0,1252.3V1274.7M1937.0,1242.4V1275.7M1938.0,1253.1V1277.1M1939.0,1247.3V1279.1M1940.0,1256.3V1278.3M1941.0,1257.0V1279.1M1942.0,1257.9V1280.5M1943.0,1260.2V1281.3M1944.0,1258.6V1282.4M1945.0,1260.4V1284.4M1946.0,1259.9V1283.9M1947.0,1262.4V1282.3M1948.0,1258.6V1282.0M1949.0,1260.8V1282.6M1950.0,1261.2V1282.9M1951.0,1265.2V1288.2M1952.0,1265.0V1287.8M1953.0,1265.3V1288.7M1954.0,1265.2V1286.9M1955.0,1265.5V1285.5M1956.0,1266.0V1285.1M1957.0,1266.2V1285.2M1958.0,1265.9V1298.5M1959.0,1265.5V1287.2M1960.0,1266.4V1295.2M1961.0,1266.5V1288.2M1962.0,1266.7V1288.0M1963.0,1266.5V1289.2M1964.0,1266.3V1288.8M1965.0,1263.1V1290.1M1966.0,1267.0V1286.4M1967.0,1267.1V1286.8M1968.0,1265.8V1286.1M1969.0,1265.8V1285.2M1970.0,1264.3V1288.2M1971.0,1254.2V1288.2M1972.0,1265.9V1288.9M1973.0,1265.8V1288.2M1974.0,1266.8V1302.8M1975.0,1268.8V1289.3M1976.0,1257.9V1289.6M1977.0,1267.3V1288.8M1978.0,1262.4V1284.8M1979.0,1263.0V1286.3M1980.0,1263.4V1285.7M1981.0,1265.1V1285.6M1982.0,1265.4V1286.9M1983.0,1265.9V1290.7M1984.0,1265.1V1289.1M1985.0,1265.4V1289.8M1986.0,1263.1V1287.9M1987.0,1259.2V1284.6M1988.0,1248.4V1286.1M1989.0,1257.5V1279.3M1990.0,1258.4V1279.4M1991.0,1247.0V1278.4M1992.0,1258.5V1278.5M1993.0,1244.0V1275.6M1994.0,1255.3V1281.5M1995.0,1255.7V1276.6M1996.0,1256.8V1280.3M1997.0,1255.6V1289.8M1998.0,1258.4V1283.0M1999.0,1263.5V1285.2M2000.0,1264.1V1285.7M2001.0,1263.4V1284.8M2002.0,1258.9V1281.3M2003.0,1259.0V1280.9M2004.0,1259.4V1281.0M2005.0,1261.7V1283.9M2006.0,1261.7V1284.3M2007.0,1262.3V1284.6M2008.0,1262.6V1283.0M2009.0,1261.7V1283.1M2010.0,1261.6V1282.2M2011.0,1262.1V1290.9M2012.0,1265.0V1283.0M2013.0,1264.9V1284.2M2014.0,1261.0V1282.9M2015.0,1259.8V1281.1M2016.0,1257.6V1282.6M2017.0,1258.1V1277.5M2018.0,1250.0V1278.1M2019.0,1259.2V1278.6M2020.0,1259.1V1281.0M2021.0,1260.0V1281.0M2022.0,1257.4V1276.8M2023.0,1256.0V1274.9M2024.0,1253.5V1273.6M2025.0,1250.0V1273.4M2026.0,1254.0V1279.2M2027.0,1255.7V1281.2M2028.0,1255.6V1279.9M2029.0,1256.4V1278.8M2030.0,1258.5V1278.4M2031.0,1259.2V1279.6M2032.0,1259.9V1277.8M2033.0,1260.0V1278.5M2034.0,1250.5V1279.2M2035.0,1258.9V1282.8M2036.0,1260.5V1284.9M2037.0,1259.9V1281.4M2038.0,1262.7V1280.4M2039.0,1261.4V1282.2M2040.0,1260.1V1281.2M2041.0,1260.6V1277.8M2042.0,1256.9V1278.1M2043.0,1258.2V1279.6M2044.0,1259.1V1280.2M2045.0,1259.6V1285.4M2046.0,1262.9V1284.3M2047.0,1262.9V1283.3M2048.0,1261.5V1283.4M2049.0,1261.9V1281.1M2050.0,1262.8V1281.8M2051.0,1261.9V1281.8M2052.0,1254.3V1286.1M2053.0,1264.1V1285.7M2054.0,1263.6V1285.6M2055.0,1263.2V1282.1M2056.0,1262.2V1281.2M2057.0,1259.3V1280.1M2058.0,1258.0V1280.5M2059.0,1256.7V1280.0M2060.0,1257.6V1281.4M2061.0,1259.7V1282.9M2062.0,1260.4V1286.0M2063.0,1261.5V1284.1M2064.0,1262.5V1281.8M2065.0,1262.4V1279.5M2066.0,1262.7V1282.7M2067.0,1261.8V1281.4M2068.0,1262.2V1281.6M2069.0,1262.1V1283.9M2070.0,1263.3V1283.6M2071.0,1259.0V1283.5M2072.0,1259.0V1283.7M2073.0,1259.1V1281.8M2074.0,1258.5V1281.6M2075.0,1260.6V1282.4M2076.0,1261.8V1282.5M2077.0,1261.5V1284.0M2078.0,1258.1V1279.4M2079.0,1256.8V1277.6M2080.0,1258.6V1290.6M2081.0,1260.2V1280.3M2082.0,1262.5V1282.8M2083.0,1263.4V1283.5M2084.0,1267.0V1284.8M2085.0,1266.7V1284.3M2086.0,1264.1V1285.4M2087.0,1264.2V1294.5M2088.0,1265.8V1286.6M2089.0,1265.6V1286.1M2090.0,1265.0V1285.1M2091.0,1263.2V1283.7M2092.0,1262.0V1282.5M2093.0,1262.2V1282.2M2094.0,1248.2V1282.3M2095.0,1261.4V1296.8M2096.0,1261.1V1281.6M2097.0,1251.7V1295.7M2098.0,1263.1V1293.6M2099.0,1263.3V1284.5M2100.0,1264.0V1287.1M2101.0,1263.2V1284.8M2102.0,1265.2V1285.2M2103.0,1267.3V1285.2M2104.0,1267.5V1285.7M2105.0,1265.4V1286.4M2106.0,1264.7V1285.0M2107.0,1263.6V1285.4M2108.0,1262.2V1282.7M2109.0,1262.1V1282.0M2110.0,1260.0V1280.2M2111.0,1260.2V1280.2M2112.0,1262.0V1283.6M2113.0,1262.3V1283.6M2114.0,1266.8V1285.8M2115.0,1265.6V1282.2M2116.0,1265.0V1281.7M2117.0,1262.8V1281.7M2118.0,1261.2V1278.6M2119.0,1258.9V1276.8M2120.0,1258.6V1275.7M2121.0,1257.3V1277.5M2122.0,1257.2V1277.3M2123.0,1256.6V1276.8M2124.0,1254.4V1276.3M2125.0,1257.2V1275.9M2126.0,1255.2V1292.4M2127.0,1264.3V1280.5M2128.0,1259.3V1283.9M2129.0,1266.6V1284.3M2130.0,1266.3V1284.2M2131.0,1263.9V1286.7M2132.0,1266.5V1286.2M2133.0,1264.4V1286.2M2134.0,1265.2V1289.0M2135.0,1265.6V1286.7M2136.0,1264.8V1286.0M2137.0,1264.1V1282.4M2138.0,1263.0V1282.3M2139.0,1263.5V1282.4M2140.0,1264.7V1282.9M2141.0,1265.6V1284.1M2142.0,1268.6V1285.0M2143.0,1268.8V1285.5M2144.0,1270.2V1286.6M2145.0,1269.7V1288.5M2146.0,1270.5V1289.5M2147.0,1270.9V1290.4M2148.0,1271.0V1289.9M2149.0,1272.4V1289.3M2150.0,1272.6V1288.5M2151.0,1272.0V1288.4M2152.0,1271.7V1299.5M2153.0,1269.8V1290.6M2154.0,1269.2V1290.1M2155.0,1267.4V1289.7M2156.0,1267.3V1286.7M2157.0,1265.4V1286.7M2158.0,1265.2V1285.3M2159.0,1268.1V1285.4M2160.0,1268.3V1285.7M2161.0,1268.4V1286.4M2162.0,1267.8V1289.6M2163.0,1268.7V1290.8M2164.0,1266.9V1286.3M2165.0,1259.9V1285.2M2166.0,1265.7V1283.7M2167.0,1266.5V1286.0M2168.0,1265.6V1286.5M2169.0,1266.1V1287.9M2170.0,1264.4V1286.8M2171.0,1261.0V1281.4M2172.0,1260.4V1278.4M2173.0,1257.0V1275.1M2174.0,1252.9V1276.5M2175.0,1257.7V1279.0M2176.0,1258.2V1279.5M2177.0,1260.0V1281.0M2178.0,1260.6V1292.5M2179.0,1261.8V1282.1M2180.0,1262.3V1282.6M2181.0,1263.9V1283.5M2182.0,1263.1V1283.0M2183.0,1263.4V1283.7M2184.0,1263.3V1283.1M2185.0,1263.9V1284.7M2186.0,1267.1V1285.6M2187.0,1264.7V1286.5M2188.0,1265.4V1284.9M2189.0,1267.9V1284.8M2190.0,1268.2V1284.9M2191.0,1267.6V1288.1M2192.0,1267.4V1284.7M2193.0,1264.4V1284.2M2194.0,1265.8V1287.0M2195.0,1265.0V1285.6M2196.0,1263.3V1281.7M2197.0,1263.5V1281.1M2198.0,1261.8V1281.9M2199.0,1258.2V1284.8M2200.0,1263.4V1296.0M2201.0,1263.2V1281.7M2202.0,1262.0V1289.8M2203.0,1262.2V1282.2M2204.0,1260.0V1287.0M2205.0,1267.8V1284.5M2206.0,1266.2V1286.1M2207.0,1269.1V1289.9M2208.0,1270.3V1292.0M2209.0,1271.3V1287.8M2210.0,1268.3V1292.2M2211.0,1268.1V1292.7M2212.0,1267.8V1290.0M2213.0,1271.8V1288.4M2214.0,1271.8V1288.2M2215.0,1267.0V1287.3M2216.0,1267.1V1286.7M2217.0,1266.1V1285.4M2218.0,1265.6V1285.6M2219.0,1268.2V1287.3M2220.0,1267.0V1286.3M2221.0,1268.0V1286.4M2222.0,1267.0V1285.4M2223.0,1267.3V1284.3M2224.0,1268.1V1285.4M2225.0,1268.4V1286.7M2226.0,1269.3V1289.6M2227.0,1270.4V1290.5M2228.0,1268.1V1288.3M2229.0,1269.8V1286.2M2230.0,1269.4V1285.5M2231.0,1268.8V1285.2M2232.0,1265.7V1283.8M2233.0,1265.5V1286.8M2234.0,1253.6V1286.7M2235.0,1266.4V1285.3M2236.0,1264.0V1285.0M2237.0,1264.4V1285.4M2238.0,1263.9V1285.2M2239.0,1263.2V1286.0M2240.0,1262.4V1284.5M2241.0,1261.7V1283.2M2242.0,1260.2V1280.4M2243.0,1262.8V1278.5M2244.0,1262.0V1280.7M2245.0,1261.0V1278.9M2246.0,1262.4V1280.3M2247.0,1261.1V1281.2M2248.0,1262.3V1282.2M2249.0,1262.5V1282.4M2250.0,1263.0V1283.1M2251.0,1264.2V1281.7M2252.0,1265.2V1282.8M2253.0,1264.7V1280.3M2254.0,1264.1V1279.6M2255.0,1258.8V1280.3M2256.0,1257.0V1279.1M2257.0,1254.7V1279.0M2258.0,1257.4V1279.6M2259.0,1257.9V1279.8M2260.0,1259.0V1280.1M2261.0,1257.5V1279.1M2262.0,1256.7V1276.0M2263.0,1256.3V1275.6M2264.0,1258.2V1276.9M2265.0,1262.1V1278.4M2266.0,1263.4V1279.6M2267.0,1263.3V1280.0M2268.0,1263.2V1279.9M2269.0,1261.2V1280.4M2270.0,1258.2V1279.1M2271.0,1259.6V1277.5M2272.0,1258.0V1275.5M2273.0,1255.8V1277.0M2274.0,1252.7V1274.0M2275.0,1253.7V1271.8M2276.0,1253.3V1271.5M2277.0,1250.7V1270.2M2278.0,1250.5V1273.2M2279.0,1252.3V1275.7M2280.0,1254.9V1278.5M2281.0,1258.2V1279.8M2282.0,1256.8V1278.3M2283.0,1255.5V1276.3M2284.0,1253.1V1273.1M2285.0,1253.3V1272.9M2286.0,1238.6V1270.4M2287.0,1253.1V1270.2M2288.0,1253.9V1270.0M2289.0,1254.1V1271.3M2290.0,1254.7V1271.2M2291.0,1254.5V1271.8M2292.0,1255.1V1272.0M2293.0,1254.7V1271.9M2294.0,1253.9V1272.4M2295.0,1243.7V1272.8M2296.0,1255.3V1274.1M2297.0,1254.9V1273.8M2298.0,1244.9V1273.5M2299.0,1253.0V1272.5M2300.0,1251.4V1270.2M2301.0,1252.9V1269.1M2302.0,1251.7V1267.7M2303.0,1252.0V1268.4M2304.0,1252.5V1269.0M2305.0,1252.7V1269.1M2306.0,1252.9V1271.3M2307.0,1252.1V1272.9M2308.0,1251.5V1268.2M2309.0,1249.7V1268.8M2310.0,1249.8V1268.8M2311.0,1249.9V1269.0M2312.0,1247.9V1270.7M2313.0,1246.9V1268.9M2314.0,1244.8V1267.5M2315.0,1243.0V1261.7M2316.0,1240.5V1263.6M2317.0,1241.5V1258.6M2318.0,1241.4V1258.2M2319.0,1238.0V1257.8M2320.0,1239.2V1257.3M2321.0,1238.0V1260.7M2322.0,1237.3V1261.1M2323.0,1238.2V1260.9M2324.0,1239.5V1268.4M2325.0,1240.4V1262.5M2326.0,1241.4V1261.4M2327.0,1242.3V1261.4M2328.0,1241.1V1266.4M2329.0,1239.7V1262.0M2330.0,1238.1V1263.8M2331.0,1234.0V1260.6M2332.0,1229.5V1256.8M2333.0,1227.9V1256.1M2334.0,1226.5V1256.3M2335.0,1226.7V1255.4M2336.0,1226.6V1261.7M2337.0,1219.9V1254.8M2338.0,1227.4V1252.2M2339.0,1226.4V1255.0M2340.0,1221.3V1249.6M2341.0,1215.1V1244.0M2342.0,1205.7V1238.3M2343.0,1205.9V1240.2M2344.0,1216.3V1248.0M2345.0,1218.8V1244.8M2346.0,1221.2V1246.8M2347.0,1168.4V1249.9M2348.0,1215.9V1248.2M2349.0,1212.0V1242.5M2350.0,1208.8V1243.4M2351.0,1213.9V1245.2M2352.0,1214.5V1253.2M2353.0,1214.1V1242.9M2354.0,1212.7V1243.9M2355.0,1212.7V1244.2M2356.0,1214.0V1244.9M2357.0,1218.9V1248.3M2358.0,1215.7V1243.7M2359.0,1208.5V1238.1M2360.0,1203.7V1234.6M2361.0,1202.7V1232.3M2362.0,1204.5V1234.0M2363.0,1199.9V1233.8M2364.0,1204.7V1243.1M2365.0,1210.8V1243.2M2366.0,1214.8V1250.3M2367.0,1212.2V1241.6M2368.0,1208.9V1238.7M2369.0,1203.9V1231.1M2370.0,1203.2V1230.1M2371.0,1201.7V1244.1M2372.0,1202.8V1233.7M2373.0,1202.0V1231.9M2374.0,1185.8V1223.5M2375.0,1191.3V1220.2M2376.0,1192.5V1221.4M2377.0,1197.3V1225.4M2378.0,1200.0V1227.6M2379.0,1203.8V1230.0M2380.0,1207.1V1234.6M2381.0,1200.3V1235.7M2382.0,1193.8V1229.5M2383.0,1187.3V1220.8M2384.0,1182.5V1218.9M2385.0,1190.2V1222.1M2386.0,1177.0V1226.0M2387.0,1190.9V1223.0M2388.0,1173.4V1213.0M2389.0,1179.6V1210.4M2390.0,1179.7V1211.4M2391.0,1180.6V1214.9M2392.0,1153.0V1219.1M2393.0,1185.0V1213.9M2394.0,1185.4V1216.4M2395.0,1185.4V1210.9M2396.0,1180.4V1211.4M2397.0,1187.7V1219.9M2398.0,1198.3V1239.7M2399.0,1198.6V1232.9M2400.0,1200.0V1231.2M2401.0,1198.1V1229.8M2402.0,1197.5V1228.5M2403.0,1198.3V1226.5M2404.0,1193.0V1227.2M2405.0,1188.7V1224.0M2406.0,1162.0V1219.1M2407.0,1186.6V1214.9M2408.0,1186.1V1226.6M2409.0,1188.6V1219.8M2410.0,1190.5V1219.1M2411.0,1193.8V1221.8M2412.0,1198.2V1228.4M2413.0,1201.6V1256.0M2414.0,1201.9V1231.6M2415.0,1204.9V1256.8M2416.0,1210.3V1241.1M2417.0,1214.9V1246.0M2418.0,1219.5V1246.8M2419.0,1217.4V1256.0M2420.0,1214.1V1248.7M2421.0,1211.0V1244.5M2422.0,1210.8V1249.8M2423.0,1209.4V1236.3M2424.0,1207.9V1234.2M2425.0,1207.8V1233.6M2426.0,1206.0V1258.5M2427.0,1209.6V1238.7M2428.0,1212.4V1243.7M2429.0,1214.4V1248.8M2430.0,1203.2V1241.6M2431.0,1210.4V1240.3M2432.0,1210.0V1242.6M2433.0,1208.6V1240.8M2434.0,1207.4V1239.6M2435.0,1204.0V1233.8M2436.0,1203.0V1232.6M2437.0,1205.0V1233.6M2438.0,1202.9V1233.1M2439.0,1203.6V1233.0M2440.0,1204.4V1233.2M2441.0,1199.9V1232.9M2442.0,1203.5V1230.1M2443.0,1200.2V1231.0M2444.0,1201.1V1233.8M2445.0,1188.2V1238.2M2446.0,1207.2V1240.0M2447.0,1201.6V1237.4M2448.0,1207.6V1231.9M2449.0,1178.7V1234.1M2450.0,1198.3V1230.9M2451.0,1199.4V1231.8M2452.0,1202.4V1235.3M2453.0,1207.5V1249.3M2454.0,1205.7V1240.0M2455.0,1202.2V1231.0M2456.0,1180.0V1227.7M2457.0,1204.0V1231.2M2458.0,1206.5V1234.2M2459.0,1192.4V1242.8M2460.0,1207.5V1237.2M2461.0,1206.0V1258.0M2462.0,1203.8V1235.8M2463.0,1202.5V1230.0M2464.0,1203.1V1229.4M2465.0,1202.1V1229.5M2466.0,1201.7V1229.5M2467.0,1201.1V1232.9M2468.0,1201.4V1232.7M2469.0,1201.1V1229.3M2470.0,1201.9V1229.8M2471.0,1203.2V1230.6M2472.0,1204.8V1234.4M2473.0,1197.4V1230.4M2474.0,1194.9V1224.4M2475.0,1194.9V1225.9M2476.0,1196.2V1224.2M2477.0,1197.8V1226.5M2478.0,1195.8V1224.6M2479.0,1193.9V1222.2M2480.0,1191.7V1222.2M2481.0,1188.1V1218.3M2482.0,1189.7V1220.8M2483.0,1192.8V1221.2M2484.0,1195.6V1223.3M2485.0,1193.4V1224.9M2486.0,1197.2V1229.5M2487.0,1201.2V1232.6M2488.0,1204.4V1235.1M2489.0,1207.1V1246.5M2490.0,1210.3V1234.0M2491.0,1212.1V1238.5M2492.0,1214.4V1258.1M2493.0,1215.4V1240.2M2494.0,1214.0V1246.9M2495.0,1212.6V1239.9M2496.0,1205.9V1238.3M2497.0,1204.5V1236.8M2498.0,1204.1V1237.4M2499.0,1209.3V1235.7M2500.0,1209.6V1235.7M2501.0,1209.9V1236.1M2502.0,1209.7V1236.5M2503.0,1208.9V1234.1M2504.0,1199.1V1234.3M2505.0,1202.1V1233.6M2506.0,1190.0V1232.6M2507.0,1209.0V1234.3M2508.0,1210.7V1238.2M2509.0,1213.3V1241.2M2510.0,1212.8V1240.3M2511.0,1213.2V1238.9M2512.0,1209.2V1238.4M2513.0,1208.1V1238.6M2514.0,1209.6V1235.8M2515.0,1213.1V1238.3M2516.0,1213.3V1240.5M2517.0,1208.1V1240.8M2518.0,1207.7V1238.4M2519.0,1209.6V1238.7M2520.0,1208.8V1232.6M2521.0,1207.7V1232.5M2522.0,1206.9V1231.6M2523.0,1206.5V1231.3M2524.0,1193.0V1227.4M2525.0,1149.6V1216.8M2526.0,1189.4V1219.3M2527.0,1183.9V1227.9M2528.0,1200.8V1235.9M2529.0,1201.3V1238.0M2530.0,1199.1V1230.9M2531.0,1196.9V1228.8M2532.0,1184.6V1224.7M2533.0,1196.9V1229.5M2534.0,1201.5V1231.5M2535.0,1207.0V1236.4M2536.0,1210.5V1235.8M2537.0,1211.0V1235.4M2538.0,1208.9V1234.9M2539.0,1207.9V1233.5M2540.0,1208.3V1233.1M2541.0,1205.4V1236.9M2542.0,1205.8V1245.3M2543.0,1207.6V1251.4M2544.0,1203.8V1234.5M2545.0,1196.9V1233.4M2546.0,1207.4V1237.1M2547.0,1206.5V1250.3M2548.0,1205.4V1228.0M2549.0,1192.4V1230.4M2550.0,1204.8V1234.9M2551.0,1205.5V1236.5M2552.0,1201.9V1231.4M2553.0,1203.3V1230.1M2554.0,1171.0V1225.7M2555.0,1198.6V1229.4M2556.0,1204.7V1232.6M2557.0,1209.1V1236.9M2558.0,1211.5V1237.4M2559.0,1210.7V1239.2M2560.0,1210.9V1259.7M2561.0,1206.2V1235.2M2562.0,1199.4V1229.9M2563.0,1197.2V1227.4M2564.0,1201.8V1227.3M2565.0,1202.2V1228.6M2566.0,1204.3V1229.6M2567.0,1201.7V1229.5M2568.0,1194.5V1224.4M2569.0,1194.0V1221.4M2570.0,1191.6V1218.6M2571.0,1190.0V1223.7M2572.0,1198.0V1225.9M2573.0,1200.0V1232.5M2574.0,1201.0V1232.5M2575.0,1202.8V1252.2M2576.0,1201.7V1248.9M2577.0,1201.9V1228.0M2578.0,1195.0V1221.4M2579.0,1183.6V1210.7M2580.0,1182.5V1212.2M2581.0,1182.8V1212.3M2582.0,1183.7V1212.8M2583.0,1182.6V1210.0M2584.0,1175.2V1203.2M2585.0,1170.1V1218.8M2586.0,1167.1V1213.2M2587.0,1164.1V1198.9M2588.0,1161.6V1195.4M2589.0,1161.8V1195.6M2590.0,1162.5V1194.0M2591.0,1162.6V1190.4M2592.0,1163.8V1190.6M2593.0,1168.6V1196.1M2594.0,1177.4V1209.6M2595.0,1182.9V1215.1M2596.0,1187.1V1218.5M2597.0,1191.6V1221.3M2598.0,1189.0V1226.5M2599.0,1184.3V1215.4M2600.0,1180.3V1210.3M2601.0,1177.0V1205.9M2602.0,1183.1V1210.1M2603.0,1183.5V1212.4M2604.0,1180.7V1209.8M2605.0,1178.7V1214.4M2606.0,1176.1V1205.6M2607.0,1177.1V1206.9M2608.0,1179.5V1209.2M2609.0,1184.9V1209.9M2610.0,1185.9V1210.8M2611.0,1183.3V1209.1M2612.0,1182.5V1224.3M2613.0,1178.2V1207.5M2614.0,1171.7V1201.0M2615.0,1166.0V1194.5M2616.0,1161.6V1188.1M2617.0,1157.5V1184.4M2618.0,1152.7V1179.7M2619.0,1143.4V1173.4M2620.0,1138.5V1166.7M2621.0,1109.6V1165.3M2622.0,1143.1V1233.0M2623.0,1155.5V1184.0M2624.0,1163.1V1192.9M2625.0,1159.7V1188.4M2626.0,1155.9V1189.6M2627.0,1155.3V1180.3M2628.0,1154.9V1179.8M2629.0,1155.6V1182.3M2630.0,1153.5V1181.1M2631.0,1153.5V1180.4M2632.0,1157.7V1193.6M2633.0,1162.6V1187.3M2634.0,1159.4V1183.9M2635.0,1155.5V1180.4M2636.0,1151.1V1173.6M2637.0,1147.4V1173.7M2638.0,1149.1V1175.3M2639.0,1157.5V1182.5M2640.0,1159.9V1184.4M2641.0,1153.2V1183.1M2642.0,1150.8V1180.1M2643.0,1151.4V1180.1M2644.0,1156.2V1184.2M2645.0,1162.1V1189.6M2646.0,1166.1V1192.7M2647.0,1165.4V1190.8M2648.0,1164.0V1185.9M2649.0,1162.8V1184.6M2650.0,1164.4V1188.1M2651.0,1169.5V1205.6M2652.0,1174.6V1197.7M2653.0,1175.3V1198.7M2654.0,1174.0V1197.7M2655.0,1171.1V1197.7M2656.0,1176.3V1212.9M2657.0,1178.5V1204.2M2658.0,1177.0V1205.6M2659.0,1186.2V1207.4M2660.0,1188.3V1210.5M2661.0,1190.3V1213.6M2662.0,1181.3V1216.5M2663.0,1195.4V1216.7M2664.0,1199.9V1218.2M2665.0,1197.4V1221.2M2666.0,1193.1V1217.5M2667.0,1194.1V1216.5M2668.0,1192.7V1212.5M2669.0,1190.8V1211.3M2670.0,1190.8V1208.6M2671.0,1194.1V1211.7M2672.0,1198.1V1215.2M2673.0,1200.7V1218.7M2674.0,1203.2V1220.5M2675.0,1198.4V1221.6M2676.0,1204.5V1227.0M2677.0,1203.0V1222.6M2678.0,1200.3V1220.4M2679.0,1198.4V1217.9M2680.0,1196.1V1214.6M2681.0,1196.9V1216.1M2682.0,1199.1V1217.8M2683.0,1200.4V1223.0M2684.0,1201.8V1240.0M2685.0,1201.9V1224.5M2686.0,1199.4V1221.3M2687.0,1198.5V1218.2M2688.0,1195.2V1216.0M2689.0,1193.0V1213.7M2690.0,1192.7V1210.5M2691.0,1189.6V1207.0M2692.0,1189.1V1212.4M2693.0,1190.5V1212.6M2694.0,1192.8V1211.2M2695.0,1195.5V1213.0M2696.0,1195.1V1213.6M2697.0,1189.7V1212.2M2698.0,1189.5V1210.8M2699.0,1192.8V1208.6M2700.0,1192.0V1207.5M2701.0,1191.4V1209.1M2702.0,1189.0V1208.8M2703.0,1181.2V1212.8M2704.0,1188.6V1206.0M2705.0,1177.1V1207.5M2706.0,1194.3V1211.1M2707.0,1198.7V1214.6M2708.0,1199.4V1218.1M2709.0,1197.3V1219.2M2710.0,1199.3V1221.3M2711.0,1201.1V1222.8M2712.0,1205.6V1228.3M2713.0,1203.3V1230.5M2714.0,1209.2V1230.4M2715.0,1209.6V1228.4M2716.0,1210.5V1229.1M2717.0,1212.1V1231.0M2718.0,1211.9V1229.6M2719.0,1210.9V1228.9M2720.0,1208.3V1227.0M2721.0,1208.3V1227.4M2722.0,1209.0V1228.2M2723.0,1209.1V1228.7M2724.0,1209.1V1236.7M2725.0,1208.2V1226.2M2726.0,1207.8V1224.3M2727.0,1206.1V1224.8M2728.0,1210.0V1225.5M2729.0,1210.9V1226.3M2730.0,1209.3V1229.2M2731.0,1208.5V1227.3M2732.0,1208.5V1227.0M2733.0,1208.5V1227.3M2734.0,1206.9V1227.1M2735.0,1206.4V1225.8M2736.0,1206.4V1224.1M2737.0,1205.5V1223.2M2738.0,1205.1V1223.6M2739.0,1206.8V1223.7M2740.0,1206.5V1221.1M2741.0,1206.6V1221.0M2742.0,1206.4V1221.0M2743.0,1204.8V1223.4M2744.0,1206.3V1225.2M2745.0,1198.5V1222.6M2746.0,1205.6V1223.6M2747.0,1207.6V1226.6M2748.0,1209.1V1227.8M2749.0,1196.6V1226.8M2750.0,1206.2V1223.1M2751.0,1187.0V1220.4M2752.0,1205.3V1229.1M2753.0,1206.0V1221.7M2754.0,1206.6V1224.2M2755.0,1205.9V1222.9M2756.0,1201.8V1218.5M2757.0,1200.3V1216.8M2758.0,1200.8V1215.1M2759.0,1201.0V1215.6M2760.0,1200.8V1214.7M2761.0,1200.6V1215.1M2762.0,1198.1V1216.9M2763.0,1196.3V1215.6M2764.0,1195.3V1214.0M2765.0,1193.5V1210.5M2766.0,1183.5V1210.7M2767.0,1175.8V1192.9M2768.0,1172.9V1189.4M2769.0,1168.4V1184.5M2770.0,1164.4V1178.9M2771.0,1163.5V1177.7M2772.0,1161.6V1177.8M2773.0,1162.3V1177.6M2774.0,1163.9V1177.8M2775.0,1165.2V1178.9M2776.0,1169.9V1183.7M2777.0,1173.0V1187.5M2778.0,1174.9V1189.4M2779.0,1174.9V1191.5M2780.0,1174.8V1191.5M2781.0,1174.5V1191.1M2782.0,1177.8V1193.0M2783.0,1180.8V1195.8M2784.0,1183.5V1210.4M2785.0,1184.0V1198.8M2786.0,1184.1V1199.0M2787.0,1184.6V1200.5M2788.0,1185.6V1201.4M2789.0,1184.2V1200.3M2790.0,1182.4V1205.1M2791.0,1176.5V1200.1M2792.0,1182.4V1199.5M2793.0,1180.3V1197.3M2794.0,1176.1V1192.5M2795.0,1176.6V1192.2M2796.0,1176.7V1191.9M2797.0,1169.4V1189.8M2798.0,1171.5V1186.9M2799.0,1169.9V1184.4M2800.0,1164.8V1182.0M2801.0,1167.9V1182.2M2802.0,1168.6V1182.9M2803.0,1170.6V1184.2M2804.0,1171.5V1188.9M2805.0,1171.9V1188.9M2806.0,1169.3V1183.9M2807.0,1152.9V1180.2M2808.0,1165.1V1182.4M2809.0,1166.4V1180.5M2810.0,1167.7V1183.0M2811.0,1169.5V1185.5M2812.0,1167.8V1185.8M2813.0,1170.0V1187.9M2814.0,1169.7V1186.3M2815.0,1168.5V1184.1M2816.0,1163.1V1181.6M2817.0,1153.5V1177.0M2818.0,1152.8V1181.1M2819.0,1158.3V1173.7M2820.0,1159.1V1186.3M2821.0,1161.1V1175.0M2822.0,1161.9V1175.3M2823.0,1162.9V1181.3M2824.0,1162.3V1179.4M2825.0,1161.3V1180.1M2826.0,1162.0V1180.7M2827.0,1163.9V1179.4M2828.0,1164.3V1178.3M2829.0,1160.3V1174.2M2830.0,1156.6V1172.5M2831.0,1154.7V1170.7M2832.0,1154.0V1171.2M2833.0,1153.2V1168.9M2834.0,1151.3V1167.9M2835.0,1150.2V1167.4M2836.0,1151.9V1166.9M2837.0,1154.1V1169.0M2838.0,1156.0V1171.0M2839.0,1153.6V1172.6M2840.0,1158.4V1174.1M2841.0,1160.0V1175.7M2842.0,1162.0V1181.3M2843.0,1168.3V1187.3M2844.0,1174.6V1193.0M2845.0,1181.0V1200.0M2846.0,1188.0V1204.0M2847.0,1185.6V1199.9M2848.0,1181.7V1196.4M2849.0,1179.7V1194.2M2850.0,1184.2V1198.9M2851.0,1188.2V1223.0M2852.0,1192.5V1207.3M2853.0,1193.1V1207.2M2854.0,1191.8V1212.7M2855.0,1188.4V1206.1M2856.0,1187.4V1205.2M2857.0,1187.0V1202.6M2858.0,1190.1V1203.3M2859.0,1189.7V1203.7M2860.0,1188.5V1203.5M2861.0,1190.4V1204.0M2862.0,1191.6V1205.1M2863.0,1193.8V1207.4M2864.0,1194.5V1214.6M2865.0,1191.5V1209.6M2866.0,1193.7V1209.0M2867.0,1190.1V1209.7M2868.0,1194.3V1212.0M2869.0,1195.8V1213.0M2870.0,1193.6V1219.9M2871.0,1191.7V1216.2M2872.0,1189.2V1206.0M2873.0,1187.0V1203.9M2874.0,1184.3V1200.0M2875.0,1181.5V1195.2M2876.0,1178.8V1192.1M2877.0,1177.2V1190.1M2878.0,1172.6V1187.8M2879.0,1159.7V1185.7M2880.0,1169.5V1184.6M2881.0,1167.2V1183.1M2882.0,1165.0V1181.5M2883.0,1162.8V1179.4M2884.0,1159.6V1177.6M2885.0,1158.4V1175.7M2886.0,1159.1V1173.7M2887.0,1157.6V1173.9M2888.0,1151.6V1170.4M2889.0,1143.9V1168.6M2890.0,1145.9V1166.9M2891.0,1147.1V1166.0M2892.0,1148.4V1167.6M2893.0,1147.3V1163.4M2894.0,1141.9V1158.1M2895.0,1135.8V1151.8M2896.0,1128.8V1147.0M2897.0,1115.0V1144.1M2898.0,1126.6V1143.3M2899.0,1124.5V1141.5M2900.0,1123.0V1139.5M2901.0,1123.3V1136.3M2902.0,1123.2V1136.2M2903.0,1123.7V1139.3M2904.0,1124.4V1140.7M2905.0,1124.5V1140.3M2906.0,1124.9V1140.5M2907.0,1123.5V1137.2M2908.0,1122.2V1136.6M2909.0,1121.9V1137.0M2910.0,1125.6V1140.1M2911.0,1128.1V1141.8M2912.0,1132.9V1146.8M2913.0,1136.7V1152.3M2914.0,1139.3V1174.8M2915.0,1136.6V1153.5M2916.0,1133.0V1150.2M2917.0,1130.5V1147.1M2918.0,1124.8V1141.2M2919.0,1123.8V1138.4M2920.0,1122.1V1139.3M2921.0,1122.5V1137.2M2922.0,1122.4V1137.6M2923.0,1122.9V1147.0M2924.0,1124.9V1142.3M2925.0,1129.7V1174.8" fill="none" stroke="#bfbfbf" stroke-width="2"/>
<path d="M1100.5,112.5V1266.7" fill="none" stroke="#bfbfbf" stroke-width="2.5"/>
<path d="M1576,1236V1625.5" fill="none" stroke="#bfbfbf" stroke-width="2"/>
<path d="M212.5,1151.1 L213.7,1151.1 L220.6,1152.2 L227.5,1148.7 L231.6,1147.4 L234.4,1147.6 L239.2,1142.6 L244.0,1143.5 L249.5,1140.5 L255.0,1141.5 L260.5,1137.7 L271.5,1134.3 L278.4,1133.3 L283.9,1134.3 L289.4,1130.2 L297.6,1125.4 L305.9,1123.7 L312.7,1121.2 L318.2,1119.9 L323.7,1119.6 L330.6,1123.7 L337.5,1126.7 L344.3,1129.2 L351.2,1132.9 L354.0,1136.4 L356.0,1146.0 L359.5,1145.3 L365.0,1143.9 L370.5,1147.4 L374.6,1137.7 L378.7,1132.9 L384.2,1130.9 L389.7,1135.0 L395.2,1137.1 L399.3,1140.5 L402.8,1140.2 L406.2,1143.5 L411.7,1139.8 L417.2,1135.0 L422.7,1126.7 L428.2,1123.3 L433.7,1120.1 L436.5,1120.6 L440.6,1124.7 L446.1,1125.4 L450.2,1127.4 L454.3,1136.4 L458.5,1143.9 L462.6,1146.0 L465.3,1157.7 L470.8,1161.8 L476.3,1165.2 L481.8,1165.2 L488.7,1168.7 L495.6,1169.4 L502.4,1173.5 L506.6,1174.9 L512.1,1173.5 L516.2,1176.9 L523.1,1176.2 L529.9,1176.2 L535.4,1178.3 L540.0,1181.0 L545.5,1184.3 L552.4,1186.4 L557.9,1189.1 L562.7,1193.2 L568.2,1191.2 L574.4,1197.4 L581.2,1204.2 L586.7,1211.1 L591.6,1208.4 L595.0,1215.9 L599.1,1215.2 L601.9,1217.3 L605.3,1215.2 L610.1,1218.7 L615.6,1217.3 L620.4,1219.4 L623.9,1224.9 L629.4,1224.9 L634.9,1225.5 L638.3,1224.9 L641.7,1230.4 L645.9,1228.3 L650.0,1224.9 L652.7,1232.4 L658.2,1230.4 L663.7,1231.7 L667.9,1229.7 L671.3,1226.2 L674.7,1230.4 L680.2,1226.9 L683.7,1224.2 L688.5,1224.9 L694.0,1220.7 L699.5,1218.0 L705.7,1213.2 L709.8,1220.7 L713.9,1213.9 L718.0,1210.4 L721.5,1219.4 L725.6,1212.5 L733.8,1208.4 L739.3,1209.7 L744.8,1209.0 L749.7,1197.4 L754.5,1199.4 L758.6,1202.2 L762.7,1206.3 L766.1,1197.4 L769.6,1205.6 L775.1,1199.4 L779.9,1207.0 L786.1,1198.7 L790.2,1212.5 L794.3,1202.9 L799.1,1197.4 L805.3,1199.4 L809.5,1204.2 L814.3,1204.2 L817.7,1199.4 L822.5,1208.4 L827.3,1201.5 L831.4,1200.1 L836.9,1189.8 L841.1,1193.2 L846.6,1198.7 L851.4,1207.7 L857.6,1202.2 L863.1,1204.2 L868.6,1204.9 L873.4,1209.7 L880.0,1203.5 L885.5,1203.5 L892.4,1202.1 L897.9,1195.9 L904.1,1200.7 L907.5,1209.0 L912.3,1206.2 L916.4,1202.1 L921.2,1209.0 L927.4,1204.2 L930.9,1214.5 L935.0,1209.0 L939.1,1204.2 L943.2,1214.5 L948.7,1223.4 L954.2,1222.0 L958.4,1220.0 L961.8,1211.7 L965.2,1224.1 L969.4,1219.3 L974.2,1219.3 L977.6,1217.2 L983.1,1226.9 L986.5,1215.2 L991.4,1218.6 L996.2,1224.1 L999.6,1221.4 L1005.1,1223.4 L1009.2,1226.9 L1012.0,1224.1 L1017.5,1231.0 L1023.0,1231.7 L1027.1,1228.9 L1031.2,1229.6 L1034.7,1228.9 L1038.1,1235.8 L1041.5,1234.4 L1045.0,1234.4 L1047.0,1247.5 L1050.5,1254.3 L1053.5,1258.5 L1057.3,1253.0 L1059.8,1246.1 L1061.2,1235.8 L1062.2,1220.0 L1063.9,1160.0 L1065.4,1133.0 L1066.9,1160.0 L1068.6,1213.1 L1069.6,1232.4 L1071.1,1233.0 L1073.8,1229.6 L1077.3,1226.9 L1081.4,1227.5 L1084.8,1231.7 L1087.6,1231.7 L1091.7,1239.2 L1095.8,1240.6 L1101.3,1238.5 L1106.1,1237.2 L1111.0,1246.1 L1116.5,1244.0 L1122.0,1245.4 L1127.5,1246.8 L1133.0,1245.4 L1137.1,1246.8 L1140.5,1250.2 L1148.1,1244.0 L1153.6,1246.8 L1159.1,1247.5 L1162.5,1246.1 L1165.9,1250.9 L1170.1,1244.7 L1174.2,1244.7 L1177.6,1250.2 L1181.1,1253.0 L1185.2,1250.2 L1190.7,1250.2 L1195.5,1246.8 L1198.9,1250.2 L1203.1,1253.7 L1207.2,1253.0 L1211.3,1248.9 L1215.4,1251.6 L1220.0,1253.0 L1226.2,1247.6 L1230.3,1249.0 L1235.1,1242.8 L1240.6,1248.3 L1246.1,1248.3 L1250.9,1250.4 L1257.1,1244.9 L1264.0,1244.9 L1270.9,1251.0 L1276.4,1251.0 L1281.9,1253.1 L1287.4,1252.4 L1292.9,1248.3 L1297.0,1245.5 L1303.9,1246.9 L1310.7,1246.2 L1317.6,1249.7 L1323.1,1246.2 L1328.6,1249.0 L1333.4,1249.0 L1338.9,1253.1 L1344.4,1250.4 L1347.9,1256.5 L1352.0,1255.9 L1355.4,1250.4 L1359.5,1245.5 L1364.3,1251.7 L1370.5,1246.9 L1375.3,1257.9 L1380.2,1254.5 L1385.0,1259.3 L1389.1,1251.0 L1394.6,1253.8 L1401.5,1255.2 L1407.0,1255.2 L1412.5,1255.2 L1417.3,1257.9 L1422.1,1255.9 L1427.6,1257.2 L1433.1,1256.5 L1437.2,1251.7 L1444.1,1251.7 L1448.2,1255.9 L1452.3,1258.6 L1456.5,1255.2 L1459.9,1259.3 L1464.0,1255.2 L1467.5,1256.5 L1470.9,1260.0 L1474.3,1253.1 L1476.4,1246.2 L1480.5,1257.2 L1486.0,1246.2 L1490.8,1254.5 L1495.0,1249.0 L1500.5,1250.4 L1505.9,1251.7 L1511.4,1251.0 L1516.9,1255.2 L1521.8,1249.7 L1527.9,1255.2 L1532.8,1250.4 L1537.6,1253.8 L1543.1,1253.8 L1547.2,1258.6 L1550.6,1262.7 L1554.1,1254.5 L1556.8,1251.0 L1560.0,1251.7 L1564.1,1256.5 L1568.9,1252.4 L1575.1,1260.0 L1580.6,1255.9 L1585.4,1255.2 L1589.6,1254.5 L1594.4,1257.2 L1599.9,1260.7 L1606.7,1262.0 L1611.6,1265.5 L1616.4,1261.4 L1620.5,1262.7 L1626.0,1265.5 L1631.5,1262.7 L1635.6,1262.7 L1642.5,1258.6 L1648.0,1263.4 L1652.1,1262.0 L1656.2,1263.4 L1660.4,1260.7 L1665.9,1263.4 L1671.4,1262.7 L1677.5,1257.2 L1682.4,1260.0 L1687.9,1259.3 L1692.0,1263.4 L1697.5,1264.1 L1703.0,1262.0 L1708.5,1259.3 L1712.6,1260.0 L1716.0,1258.6 L1720.2,1261.4 L1725.0,1262.0 L1728.4,1257.9 L1731.8,1256.5 L1735.3,1262.0 L1738.7,1265.5 L1742.8,1263.4 L1747.7,1266.2 L1752.5,1264.8 L1759.3,1265.5 L1766.2,1266.2 L1770.3,1265.5 L1773.8,1262.0 L1780.0,1264.1 L1785.5,1262.7 L1791.0,1264.8 L1795.8,1259.3 L1799.2,1259.3 L1803.3,1266.9 L1807.5,1268.2 L1811.6,1262.7 L1818.5,1263.4 L1823.3,1261.4 L1827.4,1266.9 L1831.5,1270.3 L1836.3,1267.5 L1841.1,1265.5 L1846.6,1260.7 L1850.8,1262.7 L1855.6,1262.0 L1859.7,1268.2 L1864.5,1262.7 L1869.3,1262.0 L1874.8,1258.6 L1879.6,1264.1 L1883.8,1269.6 L1888.6,1265.5 L1892.7,1267.5 L1896.8,1262.7 L1900.0,1258.6 L1904.1,1268.2 L1907.6,1270.3 L1911.7,1264.8 L1916.5,1263.4 L1921.3,1262.0 L1924.7,1269.6 L1928.9,1268.9 L1932.3,1264.8 L1936.4,1264.1 L1940.6,1265.5 L1945.4,1271.7 L1950.9,1273.7 L1957.7,1273.7 L1964.6,1274.4 L1970.1,1274.4 L1974.9,1276.5 L1979.0,1274.4 L1985.2,1275.8 L1988.7,1266.9 L1993.5,1265.5 L1997.6,1269.6 L2000.4,1273.7 L2003.8,1269.6 L2009.3,1273.0 L2013.4,1272.4 L2016.9,1266.9 L2021.0,1268.9 L2024.4,1262.7 L2028.5,1267.5 L2033.4,1268.9 L2036.1,1272.4 L2039.5,1267.5 L2044.3,1271.0 L2048.5,1270.3 L2054.0,1272.4 L2058.8,1268.2 L2064.3,1269.6 L2069.8,1271.0 L2074.6,1268.9 L2078.7,1268.9 L2083.5,1274.4 L2089.7,1273.7 L2095.2,1271.7 L2099.3,1273.0 L2104.8,1276.5 L2110.3,1271.0 L2114.5,1274.4 L2118.6,1267.5 L2124.1,1264.8 L2128.2,1274.4 L2133.7,1275.1 L2138.5,1273.0 L2143.3,1277.2 L2147.5,1279.9 L2153.0,1278.5 L2158.5,1275.8 L2162.6,1277.2 L2166.0,1274.4 L2169.5,1276.5 L2173.6,1263.4 L2177.7,1269.6 L2183.2,1273.0 L2188.7,1275.8 L2194.2,1274.4 L2198.3,1271.0 L2203.1,1273.0 L2207.9,1279.9 L2213.4,1277.9 L2217.6,1277.2 L2222.4,1274.4 L2227.2,1277.9 L2234.1,1274.4 L2240.0,1273.0 L2243.4,1269.5 L2247.6,1271.5 L2252.4,1272.9 L2256.5,1268.1 L2262.7,1268.1 L2268.9,1272.2 L2273.0,1265.3 L2277.8,1260.5 L2281.2,1268.8 L2286.1,1259.2 L2289.5,1261.9 L2292.9,1261.2 L2297.7,1265.3 L2301.9,1259.8 L2307.4,1259.2 L2310.8,1259.2 L2314.2,1253.0 L2316.3,1249.5 L2319.7,1248.9 L2323.2,1246.8 L2326.6,1252.3 L2329.4,1250.2 L2332.1,1242.7 L2335.5,1242.7 L2339.0,1237.9 L2341.7,1222.7 L2345.9,1233.7 L2348.6,1226.9 L2352.7,1229.6 L2357.5,1232.4 L2359.6,1220.0 L2363.7,1217.2 L2365.8,1228.2 L2369.2,1218.6 L2372.7,1215.9 L2374.7,1206.9 L2378.2,1214.5 L2380.2,1222.7 L2383.7,1199.4 L2386.4,1209.0 L2388.5,1194.5 L2392.6,1198.0 L2396.0,1198.0 L2398.1,1217.9 L2402.9,1213.1 L2406.3,1198.0 L2409.8,1206.9 L2413.2,1216.5 L2416.0,1222.7 L2418.7,1234.4 L2421.5,1225.5 L2424.9,1220.0 L2428.3,1229.6 L2432.5,1223.4 L2438.0,1217.2 L2443.5,1215.2 L2445.5,1226.2 L2450.3,1213.1 L2453.1,1223.4 L2455.8,1213.8 L2458.6,1223.4 L2462.7,1217.9 L2468.2,1217.9 L2471.6,1220.0 L2473.7,1207.6 L2477.1,1211.7 L2481.3,1202.1 L2485.4,1209.7 L2488.8,1221.4 L2493.0,1227.5 L2497.1,1222.0 L2501.2,1222.7 L2505.3,1218.6 L2509.5,1226.2 L2513.6,1223.4 L2515.6,1226.2 L2520.5,1220.0 L2523.2,1219.3 L2525.3,1198.0 L2528.0,1221.4 L2530.8,1211.0 L2533.5,1211.7 L2536.3,1223.4 L2540.4,1220.0 L2543.1,1224.1 L2547.9,1215.9 L2550.7,1221.4 L2554.1,1211.0 L2557.6,1222.7 L2560.3,1222.7 L2562.4,1212.4 L2566.5,1214.5 L2569.9,1206.9 L2574.1,1217.2 L2577.5,1214.5 L2578.9,1198.7 L2580.0,1198.0 L2582.7,1196.9 L2584.8,1184.5 L2587.6,1176.2 L2592.4,1178.3 L2594.4,1192.7 L2597.2,1203.0 L2600.6,1190.0 L2602.7,1199.6 L2606.1,1189.3 L2609.6,1197.5 L2612.3,1194.1 L2614.4,1181.7 L2617.8,1165.2 L2620.6,1150.1 L2621.9,1157.0 L2623.7,1179.0 L2626.7,1168.0 L2630.9,1165.2 L2632.9,1173.5 L2636.4,1161.1 L2639.8,1170.7 L2642.6,1163.9 L2645.3,1177.6 L2649.4,1172.8 L2652.2,1185.9 L2654.9,1185.2 L2657.0,1194.1 L2659.7,1198.9 L2663.9,1209.9 L2666.6,1203.7 L2669.6,1196.9 L2672.8,1207.9 L2676.2,1213.4 L2680.4,1203.7 L2684.5,1212.7 L2688.6,1203.7 L2691.4,1196.9 L2695.5,1205.8 L2699.6,1199.6 L2704.4,1196.9 L2707.2,1206.5 L2710.6,1209.9 L2712.7,1218.2 L2717.5,1218.9 L2720.2,1216.1 L2723.0,1218.2 L2725.7,1215.4 L2729.8,1217.5 L2734.0,1214.7 L2739.5,1214.7 L2745.0,1212.7 L2748.4,1218.9 L2751.2,1210.6 L2754.6,1214.0 L2757.3,1207.9 L2761.5,1207.2 L2764.9,1202.4 L2767.0,1184.5 L2770.4,1169.4 L2774.5,1170.0 L2777.3,1181.0 L2781.4,1181.7 L2784.8,1191.4 L2788.3,1193.4 L2793.1,1186.5 L2796.5,1184.5 L2800.0,1174.2 L2804.8,1179.0 L2807.5,1170.0 L2812.3,1179.7 L2815.8,1172.1 L2818.5,1165.2 L2823.3,1169.4 L2827.5,1172.1 L2830.2,1161.1 L2835.0,1158.4 L2838.5,1165.2 L2841.9,1169.4 L2844.6,1187.2 L2846.0,1196.9 L2848.8,1185.9 L2852.2,1201.0 L2856.3,1195.5 L2860.5,1197.5 L2864.6,1201.7 L2869.4,1204.4 L2872.8,1194.1 L2876.9,1181.7 L2882.4,1170.7 L2886.6,1163.9 L2889.3,1157.0 L2892.8,1153.5 L2896.2,1136.4 L2900.3,1130.2 L2901.7,1129.5 L2905.1,1131.5 L2908.6,1128.1 L2911.3,1135.0 L2914.1,1147.3 L2916.8,1137.7 L2919.6,1128.1 L2922.3,1128.1 L2924.4,1135.0 L2925.8,1140.5" fill="none" stroke="#ff0000" stroke-width="7.6" stroke-linejoin="round" stroke-linecap="butt"/>
</g>
<path d="M212.5,1625.5v15.2M212.5,112.5h-15.2M552.5,1625.5v15.2M212.5,301.5h-15.2M891.5,1625.5v15.2M212.5,490.5h-15.2M1231.5,1625.5v15.2M212.5,679.5h-15.2M1571.5,1625.5v15.2M212.5,869.5h-15.2M1910.5,1625.5v15.2M212.5,1058.5h-15.2M2250.5,1625.5v15.2M212.5,1247.5h-15.2M2589.5,1625.5v15.2M212.5,1436.5h-15.2M2929.5,1625.5v15.2M212.5,1625.5h-15.2" stroke="#000" stroke-width="3" fill="none"/>
<rect x="212.5" y="112.5" width="2717.0" height="1513.0" fill="none" stroke="#000" stroke-width="3"/>
<text x="212.10" y="1685.1" font-size="41.67" text-anchor="middle" letter-spacing="-0.5">00</text>
<text x="551.73" y="1685.1" font-size="41.67" text-anchor="middle" letter-spacing="-0.5">03</text>
<text x="891.35" y="1685.1" font-size="41.67" text-anchor="middle" letter-spacing="-0.5">06</text>
<text x="1230.97" y="1685.1" font-size="41.67" text-anchor="middle" letter-spacing="-0.5">09</text>
<text x="1570.60" y="1685.1" font-size="41.67" text-anchor="middle" letter-spacing="-0.5">12</text>
<text x="1910.22" y="1685.1" font-size="41.67" text-anchor="middle" letter-spacing="-0.5">15</text>
<text x="2249.85" y="1685.1" font-size="41.67" text-anchor="middle" letter-spacing="-0.5">18</text>
<text x="2589.47" y="1685.1" font-size="41.67" text-anchor="middle" letter-spacing="-0.5">21</text>
<text x="2929.10" y="1685.1" font-size="41.67" text-anchor="middle" letter-spacing="-0.5">00</text>
<text x="182.3" y="127.30" font-size="41.67" text-anchor="end" letter-spacing="-0.5">550</text>
<text x="182.3" y="316.43" font-size="41.67" text-anchor="end" letter-spacing="-0.5">525</text>
<text x="182.3" y="505.55" font-size="41.67" text-anchor="end" letter-spacing="-0.5">500</text>
<text x="182.3" y="694.67" font-size="41.67" text-anchor="end" letter-spacing="-0.5">475</text>
<text x="182.3" y="883.80" font-size="41.67" text-anchor="end" letter-spacing="-0.5">450</text>
<text x="182.3" y="1072.92" font-size="41.67" text-anchor="end" letter-spacing="-0.5">425</text>
<text x="182.3" y="1262.05" font-size="41.67" text-anchor="end" letter-spacing="-0.5">400</text>
<text x="182.3" y="1451.17" font-size="41.67" text-anchor="end" letter-spacing="-0.5">375</text>
<text x="182.3" y="1640.30" font-size="41.67" text-anchor="end" letter-spacing="-0.5">350</text>
<text x="1429.3" y="1743.2" font-size="41.67" letter-spacing="0.31">Uhrzeit (UTC)</text>
<text transform="translate(81.3,872.4) rotate(-90)" font-size="41.67" text-anchor="middle">ppm</text>
<text font-size="50"><tspan x="889.3" y="87.3">CO</tspan><tspan x="964.2" y="94.8" font-size="35">2</tspan><tspan x="988.3" y="87.3" letter-spacing="0.055">-Konzentration am 26.8.2020 (Dachplattform MIM)</tspan></text>
<text x="224.2" y="135.4" font-size="16.67" fill="#808080">erstellt 2020-08-26 23:59:28</text>
<rect x="2334.4" y="133.2" width="573.8" height="133" rx="8.3" ry="8.3" fill="#fff" fill-opacity="0.8" stroke="#cccccc" stroke-opacity="0.8" stroke-width="4.17"/>
<path d="M2351.2,166h83.3" stroke="#bfbfbf" stroke-width="2.08" stroke-linecap="square" fill="none"/>
<path d="M2351,226.95h83.1" stroke="#ff0000" stroke-width="6.25" stroke-linecap="square" fill="none"/>
<text x="2466.4" y="180.9" font-size="41.67" letter-spacing="0.1">Messwerte (~10 Hz)</text>
<text x="2467.7" y="241.9" font-size="41.67">1-Minuten-mittel</text>
</svg>
</body></html>
